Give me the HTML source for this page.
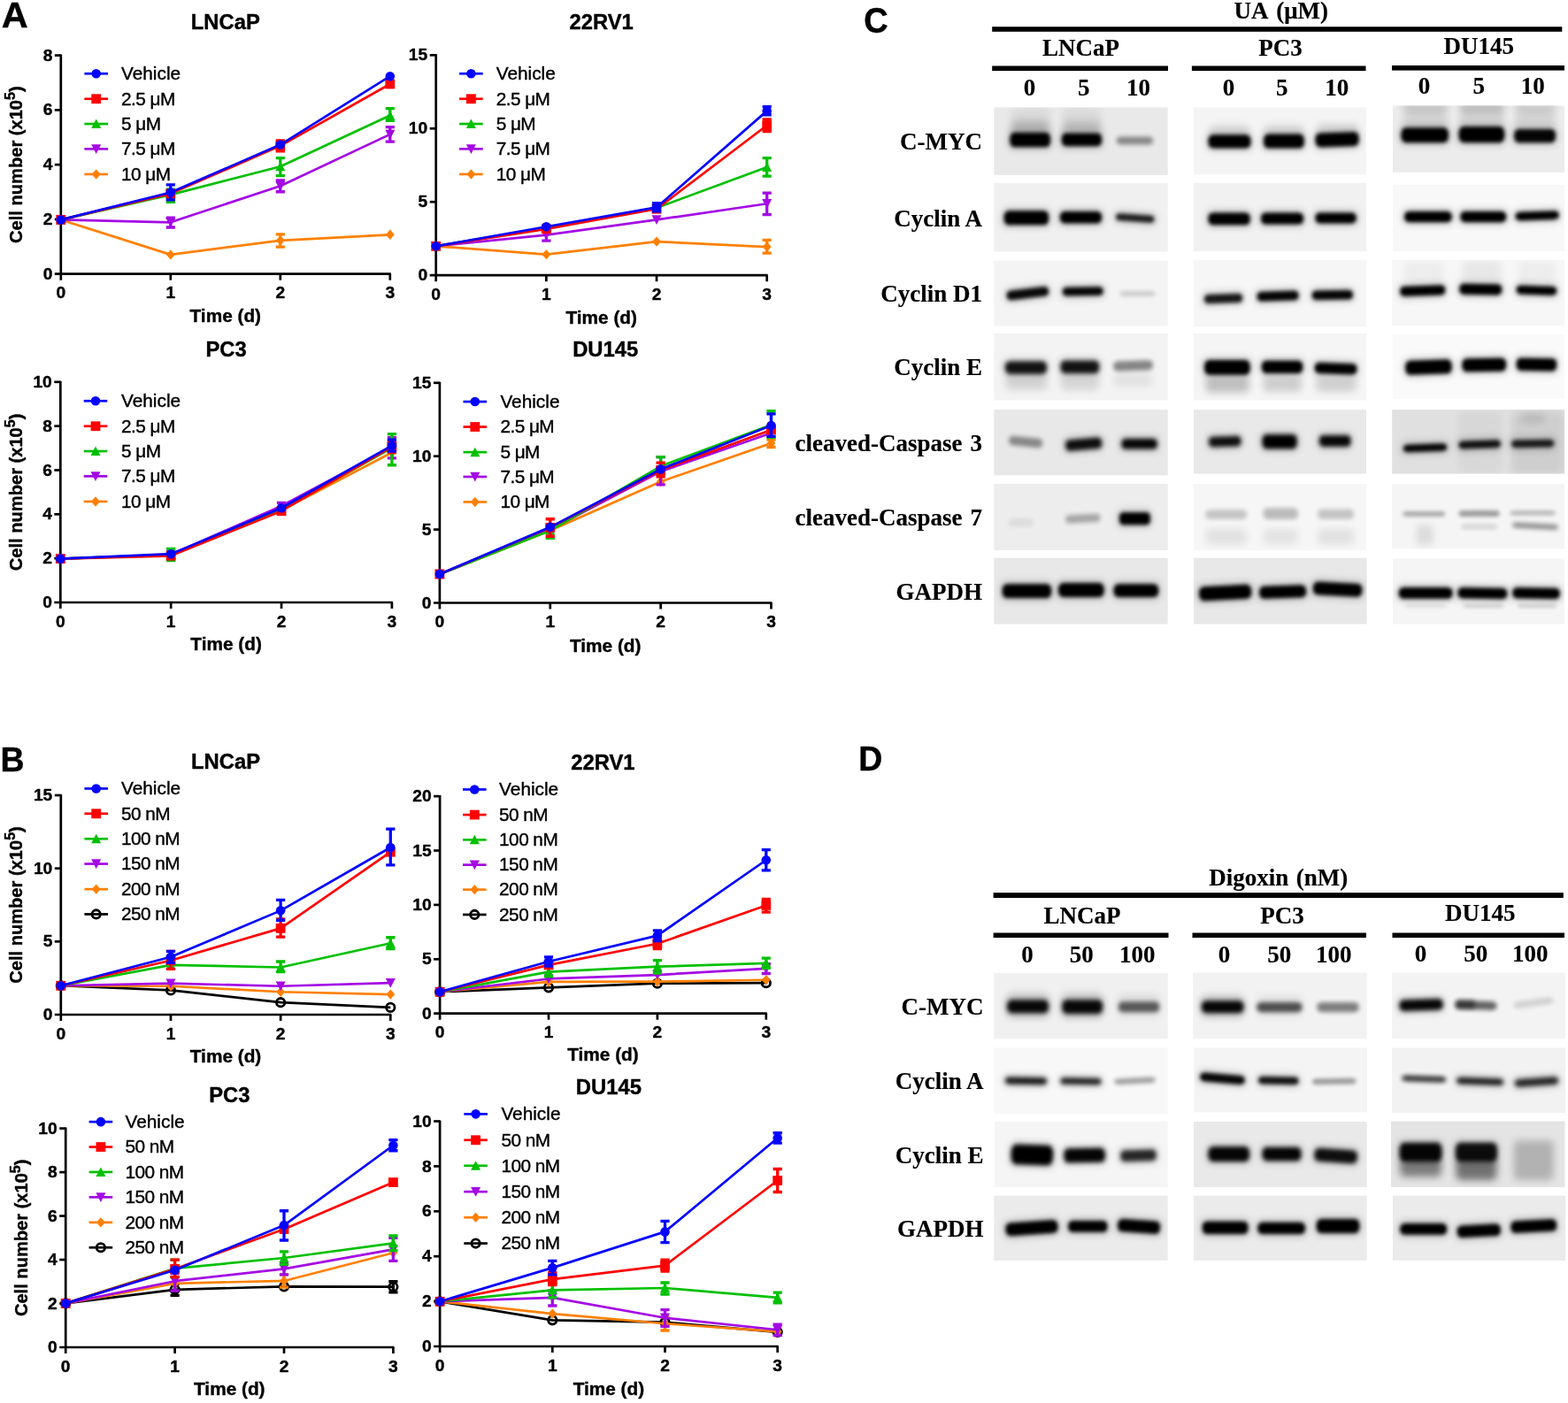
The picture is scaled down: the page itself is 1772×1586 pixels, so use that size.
<!DOCTYPE html>
<html lang="en">
<head>
<meta charset="utf-8">
<title>Figure</title>
<style>
html,body{margin:0;padding:0;background:#fff;}
body{width:1772px;height:1586px;overflow:hidden;}
svg{display:block;}
text{fill:#000;stroke:#000;stroke-width:0.4px;stroke-linejoin:round;font-family:"Liberation Sans",sans-serif;font-weight:700;}
.t{font-size:23.8px;text-anchor:middle;}
.x{font-size:20.8px;text-anchor:middle;}
.y{font-size:20.1px;text-anchor:middle;}
.k{font-size:19.2px;}
.e{text-anchor:end;}
.m{text-anchor:middle;}
.l{font-size:20.8px;font-weight:400;}
.n{letter-spacing:-0.55px;}
text.s{font-family:"Liberation Serif",serif;font-size:27px;stroke-width:0.15px;}
.w1{word-spacing:2.2px;}
.w2{word-spacing:3.4px;}
.w3{word-spacing:1.6px;}
</style>
</head>
<body>
<svg width="1772" height="1586" viewBox="0 0 1772 1586">
<rect width="1772" height="1586" fill="#fff"/>
<g><text x="254.8" y="33.2" class="t">LNCaP</text><text x="254.8" y="363.7" class="x">Time (d)</text><text transform="translate(25.1 186.15) rotate(-90)" class="y">Cell number (x10<tspan font-size="16" dy="-8.3">5</tspan><tspan dy="8.3">)</tspan></text><path d="M68.8 61.6V316.7M61.8 309.7H441.8" fill="none" stroke="#000" stroke-width="2.7" stroke-linejoin="round"/><text x="59.3" y="315.8" class="k e">0</text><path d="M61.8 247.92H68.8" stroke="#000" stroke-width="2.7" stroke-linejoin="round"/><text x="59.3" y="254.02" class="k e">2</text><path d="M61.8 186.15H68.8" stroke="#000" stroke-width="2.7" stroke-linejoin="round"/><text x="59.3" y="192.25" class="k e">4</text><path d="M61.8 124.38H68.8" stroke="#000" stroke-width="2.7" stroke-linejoin="round"/><text x="59.3" y="130.47" class="k e">6</text><path d="M61.8 62.6H68.8" stroke="#000" stroke-width="2.7" stroke-linejoin="round"/><text x="59.3" y="68.7" class="k e">8</text><text x="68.8" y="337.4" class="k m">0</text><path d="M192.8 309.7V316.7" stroke="#000" stroke-width="2.7" stroke-linejoin="round"/><text x="192.8" y="337.4" class="k m">1</text><path d="M316.8 309.7V316.7" stroke="#000" stroke-width="2.7" stroke-linejoin="round"/><text x="316.8" y="337.4" class="k m">2</text><path d="M440.8 309.7V316.7" stroke="#000" stroke-width="2.7" stroke-linejoin="round"/><text x="440.8" y="337.4" class="k m">3</text><path d="M68.8 248.43L192.8 287.89L316.8 271.79L440.8 265.3" fill="none" stroke="#ff8000" stroke-width="2.7" stroke-linejoin="round"/><path d="M316.8 264.79V279.06M311.7 264.79H321.9M311.7 279.06H321.9" fill="none" stroke="#ff8000" stroke-width="3.3"/><path d="M68.8 242.73L73.7 248.43L68.8 254.13L63.9 248.43Z" fill="#ff8000"/><path d="M192.8 282.19L197.7 287.89L192.8 293.59L187.9 287.89Z" fill="#ff8000"/><path d="M316.8 266.09L321.7 271.79L316.8 277.49L311.9 271.79Z" fill="#ff8000"/><path d="M440.8 259.6L445.7 265.3L440.8 271L435.9 265.3Z" fill="#ff8000"/><path d="M68.8 248.43L192.8 251.29L316.8 210.27L440.8 151.86" fill="none" stroke="#a408e4" stroke-width="2.7" stroke-linejoin="round"/><path d="M192.8 246.09V257M187.7 246.09H197.9M187.7 257H197.9" fill="none" stroke="#a408e4" stroke-width="3.3"/><path d="M316.8 203.78V216.76M311.7 203.78H321.9M311.7 216.76H321.9" fill="none" stroke="#a408e4" stroke-width="3.3"/><path d="M440.8 143.56V160.17M435.7 143.56H445.9M435.7 160.17H445.9" fill="none" stroke="#a408e4" stroke-width="3.3"/><path d="M68.8 254.03L74.3 243.23L63.3 243.23Z" fill="#a408e4"/><path d="M192.8 256.89L198.3 246.09L187.3 246.09Z" fill="#a408e4"/><path d="M316.8 215.87L322.3 205.07L311.3 205.07Z" fill="#a408e4"/><path d="M440.8 157.46L446.3 146.66L435.3 146.66Z" fill="#a408e4"/><path d="M68.8 248.43L192.8 220.14L316.8 188.21L440.8 130.58" fill="none" stroke="#00c000" stroke-width="2.7" stroke-linejoin="round"/><path d="M192.8 214.16V228.44M187.7 214.16H197.9M187.7 228.44H197.9" fill="none" stroke="#00c000" stroke-width="3.3"/><path d="M316.8 178.6V198.59M311.7 178.6H321.9M311.7 198.59H321.9" fill="none" stroke="#00c000" stroke-width="3.3"/><path d="M440.8 122.53V136.29M435.7 122.53H445.9M435.7 136.29H445.9" fill="none" stroke="#00c000" stroke-width="3.3"/><path d="M68.8 242.93L74.3 253.43L63.3 253.43Z" fill="#00c000"/><path d="M192.8 214.64L198.3 225.14L187.3 225.14Z" fill="#00c000"/><path d="M316.8 182.71L322.3 193.21L311.3 193.21Z" fill="#00c000"/><path d="M440.8 125.08L446.3 135.58L435.3 135.58Z" fill="#00c000"/><path d="M68.8 248.43L192.8 218.84L316.8 164.84L440.8 95.01" fill="none" stroke="#ff0000" stroke-width="2.7" stroke-linejoin="round"/><path d="M316.8 158.87V170.81M311.7 158.87H321.9M311.7 170.81H321.9" fill="none" stroke="#ff0000" stroke-width="3.3"/><rect x="63.4" y="243.03" width="10.8" height="10.8" fill="#ff0000"/><rect x="187.4" y="213.44" width="10.8" height="10.8" fill="#ff0000"/><rect x="311.4" y="159.44" width="10.8" height="10.8" fill="#ff0000"/><rect x="435.4" y="89.61" width="10.8" height="10.8" fill="#ff0000"/><path d="M68.8 248.43L192.8 217.54L316.8 163.54L440.8 86.19" fill="none" stroke="#0404ff" stroke-width="2.7" stroke-linejoin="round"/><path d="M192.8 208.97V225.85M187.7 208.97H197.9M187.7 225.85H197.9" fill="none" stroke="#0404ff" stroke-width="3.3"/><circle cx="68.8" cy="248.43" r="5.3" fill="#0404ff"/><circle cx="192.8" cy="217.54" r="5.3" fill="#0404ff"/><circle cx="316.8" cy="163.54" r="5.3" fill="#0404ff"/><circle cx="440.8" cy="86.19" r="5.3" fill="#0404ff"/><path d="M95.4 83.25H122" stroke="#0404ff" stroke-width="2.7"/><circle cx="108.7" cy="83.25" r="5.3" fill="#0404ff"/><text x="137" y="90" class="l">Vehicle</text><path d="M95.4 111.75H122" stroke="#ff0000" stroke-width="2.7"/><rect x="103.3" y="106.35" width="10.8" height="10.8" fill="#ff0000"/><text x="137" y="118.5" class="l n">2.5 μM</text><path d="M95.4 140.05H122" stroke="#00c000" stroke-width="2.7"/><path d="M108.7 134.55L114.2 145.05L103.2 145.05Z" fill="#00c000"/><text x="137" y="146.8" class="l n">5 μM</text><path d="M95.4 168.35H122" stroke="#a408e4" stroke-width="2.7"/><path d="M108.7 173.95L114.2 163.15L103.2 163.15Z" fill="#a408e4"/><text x="137" y="175.1" class="l n">7.5 μM</text><path d="M95.4 196.95H122" stroke="#ff8000" stroke-width="2.7"/><path d="M108.7 191.25L113.6 196.95L108.7 202.65L103.8 196.95Z" fill="#ff8000"/><text x="137" y="203.7" class="l n">10 μM</text></g>
<g><text x="679.7" y="32.7" class="t">22RV1</text><text x="679.7" y="366" class="x">Time (d)</text><path d="M492.7 61.3V318.2M485.7 311.2H867.7" fill="none" stroke="#000" stroke-width="2.7" stroke-linejoin="round"/><text x="483.2" y="317.3" class="k e">0</text><path d="M485.7 228.23H492.7" stroke="#000" stroke-width="2.7" stroke-linejoin="round"/><text x="483.2" y="234.33" class="k e">5</text><path d="M485.7 145.27H492.7" stroke="#000" stroke-width="2.7" stroke-linejoin="round"/><text x="483.2" y="151.37" class="k e">10</text><path d="M485.7 62.3H492.7" stroke="#000" stroke-width="2.7" stroke-linejoin="round"/><text x="483.2" y="68.4" class="k e">15</text><text x="492.7" y="338.9" class="k m">0</text><path d="M617.37 311.2V318.2" stroke="#000" stroke-width="2.7" stroke-linejoin="round"/><text x="617.37" y="338.9" class="k m">1</text><path d="M742.03 311.2V318.2" stroke="#000" stroke-width="2.7" stroke-linejoin="round"/><text x="742.03" y="338.9" class="k m">2</text><path d="M866.7 311.2V318.2" stroke="#000" stroke-width="2.7" stroke-linejoin="round"/><text x="866.7" y="338.9" class="k m">3</text><path d="M492.7 278.28L617.37 287.63L742.03 273.09L866.7 279.06" fill="none" stroke="#ff8000" stroke-width="2.7" stroke-linejoin="round"/><path d="M866.7 271.28V286.07M861.6 271.28H871.8M861.6 286.07H871.8" fill="none" stroke="#ff8000" stroke-width="3.3"/><path d="M492.7 272.58L497.6 278.28L492.7 283.98L487.8 278.28Z" fill="#ff8000"/><path d="M617.37 281.93L622.27 287.63L617.37 293.33L612.47 287.63Z" fill="#ff8000"/><path d="M742.03 267.39L746.93 273.09L742.03 278.79L737.13 273.09Z" fill="#ff8000"/><path d="M866.7 273.36L871.6 279.06L866.7 284.76L861.8 279.06Z" fill="#ff8000"/><path d="M492.7 278.28L617.37 265.56L742.03 248.43L866.7 230.26" fill="none" stroke="#a408e4" stroke-width="2.7" stroke-linejoin="round"/><path d="M617.37 259.59V272.05M612.27 259.59H622.47M612.27 272.05H622.47" fill="none" stroke="#a408e4" stroke-width="3.3"/><path d="M866.7 218.06V242.72M861.6 218.06H871.8M861.6 242.72H871.8" fill="none" stroke="#a408e4" stroke-width="3.3"/><path d="M492.7 283.88L498.2 273.08L487.2 273.08Z" fill="#a408e4"/><path d="M617.37 271.16L622.87 260.36L611.87 260.36Z" fill="#a408e4"/><path d="M742.03 254.03L747.53 243.23L736.53 243.23Z" fill="#a408e4"/><path d="M866.7 235.86L872.2 225.06L861.2 225.06Z" fill="#a408e4"/><path d="M492.7 278.28L617.37 257.52L742.03 234.93L866.7 188.98" fill="none" stroke="#00c000" stroke-width="2.7" stroke-linejoin="round"/><path d="M866.7 178.6V199.11M861.6 178.6H871.8M861.6 199.11H871.8" fill="none" stroke="#00c000" stroke-width="3.3"/><path d="M492.7 272.78L498.2 283.28L487.2 283.28Z" fill="#00c000"/><path d="M617.37 252.02L622.87 262.52L611.87 262.52Z" fill="#00c000"/><path d="M742.03 229.43L747.53 239.93L736.53 239.93Z" fill="#00c000"/><path d="M866.7 183.48L872.2 193.98L861.2 193.98Z" fill="#00c000"/><path d="M492.7 278.28L617.37 258.81L742.03 236.23L866.7 141.74" fill="none" stroke="#ff0000" stroke-width="2.7" stroke-linejoin="round"/><path d="M866.7 134.99V148.49M861.6 134.99H871.8M861.6 148.49H871.8" fill="none" stroke="#ff0000" stroke-width="3.3"/><rect x="487.3" y="272.88" width="10.8" height="10.8" fill="#ff0000"/><rect x="611.97" y="253.41" width="10.8" height="10.8" fill="#ff0000"/><rect x="736.63" y="230.83" width="10.8" height="10.8" fill="#ff0000"/><rect x="861.3" y="136.34" width="10.8" height="10.8" fill="#ff0000"/><path d="M492.7 278.28L617.37 256.22L742.03 234.41L866.7 125.38" fill="none" stroke="#0404ff" stroke-width="2.7" stroke-linejoin="round"/><path d="M742.03 229.74V238.83M736.93 229.74H747.13M736.93 238.83H747.13" fill="none" stroke="#0404ff" stroke-width="3.3"/><path d="M866.7 120.71V129.8M861.6 120.71H871.8M861.6 129.8H871.8" fill="none" stroke="#0404ff" stroke-width="3.3"/><circle cx="492.7" cy="278.28" r="5.3" fill="#0404ff"/><circle cx="617.37" cy="256.22" r="5.3" fill="#0404ff"/><circle cx="742.03" cy="234.41" r="5.3" fill="#0404ff"/><circle cx="866.7" cy="125.38" r="5.3" fill="#0404ff"/><path d="M519.1 83.25H545.7" stroke="#0404ff" stroke-width="2.7"/><circle cx="532.4" cy="83.25" r="5.3" fill="#0404ff"/><text x="560.7" y="90" class="l">Vehicle</text><path d="M519.1 111.75H545.7" stroke="#ff0000" stroke-width="2.7"/><rect x="527" y="106.35" width="10.8" height="10.8" fill="#ff0000"/><text x="560.7" y="118.5" class="l n">2.5 μM</text><path d="M519.1 140.05H545.7" stroke="#00c000" stroke-width="2.7"/><path d="M532.4 134.55L537.9 145.05L526.9 145.05Z" fill="#00c000"/><text x="560.7" y="146.8" class="l n">5 μM</text><path d="M519.1 168.35H545.7" stroke="#a408e4" stroke-width="2.7"/><path d="M532.4 173.95L537.9 163.15L526.9 163.15Z" fill="#a408e4"/><text x="560.7" y="175.1" class="l n">7.5 μM</text><path d="M519.1 196.95H545.7" stroke="#ff8000" stroke-width="2.7"/><path d="M532.4 191.25L537.3 196.95L532.4 202.65L527.5 196.95Z" fill="#ff8000"/><text x="560.7" y="203.7" class="l n">10 μM</text></g>
<g><text x="255.6" y="402.71" class="t">PC3</text><text x="255.6" y="735" class="x">Time (d)</text><text transform="translate(25.1 556.4) rotate(-90)" class="y">Cell number (x10<tspan font-size="16" dy="-8.3">5</tspan><tspan dy="8.3">)</tspan></text><path d="M68.3 430.8V688M61.3 681H443.9" fill="none" stroke="#000" stroke-width="2.7" stroke-linejoin="round"/><text x="58.8" y="687.1" class="k e">0</text><path d="M61.3 631.16H68.3" stroke="#000" stroke-width="2.7" stroke-linejoin="round"/><text x="58.8" y="637.26" class="k e">2</text><path d="M61.3 581.32H68.3" stroke="#000" stroke-width="2.7" stroke-linejoin="round"/><text x="58.8" y="587.42" class="k e">4</text><path d="M61.3 531.48H68.3" stroke="#000" stroke-width="2.7" stroke-linejoin="round"/><text x="58.8" y="537.58" class="k e">6</text><path d="M61.3 481.64H68.3" stroke="#000" stroke-width="2.7" stroke-linejoin="round"/><text x="58.8" y="487.74" class="k e">8</text><path d="M61.3 431.8H68.3" stroke="#000" stroke-width="2.7" stroke-linejoin="round"/><text x="58.8" y="437.9" class="k e">10</text><text x="68.3" y="708.7" class="k m">0</text><path d="M193.17 681V688" stroke="#000" stroke-width="2.7" stroke-linejoin="round"/><text x="193.17" y="708.7" class="k m">1</text><path d="M318.03 681V688" stroke="#000" stroke-width="2.7" stroke-linejoin="round"/><text x="318.03" y="708.7" class="k m">2</text><path d="M442.9 681V688" stroke="#000" stroke-width="2.7" stroke-linejoin="round"/><text x="442.9" y="708.7" class="k m">3</text><path d="M68.3 631.67L193.17 627.52L318.03 576.9L442.9 511.48" fill="none" stroke="#ff8000" stroke-width="2.7" stroke-linejoin="round"/><path d="M68.3 625.97L73.2 631.67L68.3 637.37L63.4 631.67Z" fill="#ff8000"/><path d="M193.17 621.82L198.07 627.52L193.17 633.22L188.27 627.52Z" fill="#ff8000"/><path d="M318.03 571.2L322.93 576.9L318.03 582.6L313.13 576.9Z" fill="#ff8000"/><path d="M442.9 505.78L447.8 511.48L442.9 517.18L438 511.48Z" fill="#ff8000"/><path d="M68.3 631.67L193.17 627L318.03 571.96L442.9 505.51" fill="none" stroke="#a408e4" stroke-width="2.7" stroke-linejoin="round"/><path d="M318.03 568.59V576.38M312.93 568.59H323.13M312.93 576.38H323.13" fill="none" stroke="#a408e4" stroke-width="3.3"/><path d="M442.9 494.6V517.97M437.8 494.6H448M437.8 517.97H448" fill="none" stroke="#a408e4" stroke-width="3.3"/><path d="M68.3 637.27L73.8 626.47L62.8 626.47Z" fill="#a408e4"/><path d="M193.17 632.6L198.67 621.8L187.67 621.8Z" fill="#a408e4"/><path d="M318.03 577.56L323.53 566.76L312.53 566.76Z" fill="#a408e4"/><path d="M442.9 511.11L448.4 500.31L437.4 500.31Z" fill="#a408e4"/><path d="M68.3 631.67L193.17 627L318.03 576.38L442.9 506.29" fill="none" stroke="#00c000" stroke-width="2.7" stroke-linejoin="round"/><path d="M193.17 620.51V633.49M188.07 620.51H198.27M188.07 633.49H198.27" fill="none" stroke="#00c000" stroke-width="3.3"/><path d="M442.9 490.71V525.76M437.8 490.71H448M437.8 525.76H448" fill="none" stroke="#00c000" stroke-width="3.3"/><path d="M68.3 626.17L73.8 636.67L62.8 636.67Z" fill="#00c000"/><path d="M193.17 621.5L198.67 632L187.67 632Z" fill="#00c000"/><path d="M318.03 570.88L323.53 581.38L312.53 581.38Z" fill="#00c000"/><path d="M442.9 500.79L448.4 511.29L437.4 511.29Z" fill="#00c000"/><path d="M68.3 631.67L193.17 628.3L318.03 577.67L442.9 504.99" fill="none" stroke="#ff0000" stroke-width="2.7" stroke-linejoin="round"/><path d="M442.9 498.5V511.48M437.8 498.5H448M437.8 511.48H448" fill="none" stroke="#ff0000" stroke-width="3.3"/><rect x="62.9" y="626.27" width="10.8" height="10.8" fill="#ff0000"/><rect x="187.77" y="622.9" width="10.8" height="10.8" fill="#ff0000"/><rect x="312.63" y="572.27" width="10.8" height="10.8" fill="#ff0000"/><rect x="437.5" y="499.59" width="10.8" height="10.8" fill="#ff0000"/><path d="M68.3 631.67L193.17 626.22L318.03 574.3L442.9 503.69" fill="none" stroke="#0404ff" stroke-width="2.7" stroke-linejoin="round"/><path d="M442.9 497.2V510.18M437.8 497.2H448M437.8 510.18H448" fill="none" stroke="#0404ff" stroke-width="3.3"/><circle cx="68.3" cy="631.67" r="5.3" fill="#0404ff"/><circle cx="193.17" cy="626.22" r="5.3" fill="#0404ff"/><circle cx="318.03" cy="574.3" r="5.3" fill="#0404ff"/><circle cx="442.9" cy="503.69" r="5.3" fill="#0404ff"/><path d="M94.7 453.25H121.3" stroke="#0404ff" stroke-width="2.7"/><circle cx="108" cy="453.25" r="5.3" fill="#0404ff"/><text x="137" y="460" class="l">Vehicle</text><path d="M94.7 481.75H121.3" stroke="#ff0000" stroke-width="2.7"/><rect x="102.6" y="476.35" width="10.8" height="10.8" fill="#ff0000"/><text x="137" y="488.5" class="l n">2.5 μM</text><path d="M94.7 510.05H121.3" stroke="#00c000" stroke-width="2.7"/><path d="M108 504.55L113.5 515.05L102.5 515.05Z" fill="#00c000"/><text x="137" y="516.8" class="l n">5 μM</text><path d="M94.7 538.35H121.3" stroke="#a408e4" stroke-width="2.7"/><path d="M108 543.95L113.5 533.15L102.5 533.15Z" fill="#a408e4"/><text x="137" y="545.1" class="l n">7.5 μM</text><path d="M94.7 566.95H121.3" stroke="#ff8000" stroke-width="2.7"/><path d="M108 561.25L112.9 566.95L108 572.65L103.1 566.95Z" fill="#ff8000"/><text x="137" y="573.7" class="l n">10 μM</text></g>
<g><text x="684.2" y="403.23" class="t">DU145</text><text x="684.2" y="736.6" class="x">Time (d)</text><path d="M496.9 431.8V688.5M489.9 681.5H872.5" fill="none" stroke="#000" stroke-width="2.7" stroke-linejoin="round"/><text x="487.4" y="687.6" class="k e">0</text><path d="M489.9 598.6H496.9" stroke="#000" stroke-width="2.7" stroke-linejoin="round"/><text x="487.4" y="604.7" class="k e">5</text><path d="M489.9 515.7H496.9" stroke="#000" stroke-width="2.7" stroke-linejoin="round"/><text x="487.4" y="521.8" class="k e">10</text><path d="M489.9 432.8H496.9" stroke="#000" stroke-width="2.7" stroke-linejoin="round"/><text x="487.4" y="438.9" class="k e">15</text><text x="496.9" y="709.2" class="k m">0</text><path d="M621.77 681.5V688.5" stroke="#000" stroke-width="2.7" stroke-linejoin="round"/><text x="621.77" y="709.2" class="k m">1</text><path d="M746.63 681.5V688.5" stroke="#000" stroke-width="2.7" stroke-linejoin="round"/><text x="746.63" y="709.2" class="k m">2</text><path d="M871.5 681.5V688.5" stroke="#000" stroke-width="2.7" stroke-linejoin="round"/><text x="871.5" y="709.2" class="k m">3</text><path d="M496.9 649.06L621.77 599.74L746.63 544.45L871.5 501.09" fill="none" stroke="#ff8000" stroke-width="2.7" stroke-linejoin="round"/><path d="M871.5 497.2V505.51M866.4 497.2H876.6M866.4 505.51H876.6" fill="none" stroke="#ff8000" stroke-width="3.3"/><path d="M496.9 643.36L501.8 649.06L496.9 654.76L492 649.06Z" fill="#ff8000"/><path d="M621.77 594.04L626.67 599.74L621.77 605.44L616.87 599.74Z" fill="#ff8000"/><path d="M746.63 538.75L751.53 544.45L746.63 550.15L741.73 544.45Z" fill="#ff8000"/><path d="M871.5 495.39L876.4 501.09L871.5 506.79L866.6 501.09Z" fill="#ff8000"/><path d="M496.9 649.06L621.77 598.44L746.63 533.02L871.5 489.41" fill="none" stroke="#a408e4" stroke-width="2.7" stroke-linejoin="round"/><path d="M746.63 516.67V547.82M741.53 516.67H751.73M741.53 547.82H751.73" fill="none" stroke="#a408e4" stroke-width="3.3"/><path d="M496.9 654.66L502.4 643.86L491.4 643.86Z" fill="#a408e4"/><path d="M621.77 604.04L627.27 593.24L616.27 593.24Z" fill="#a408e4"/><path d="M746.63 538.62L752.13 527.82L741.13 527.82Z" fill="#a408e4"/><path d="M871.5 495.01L877 484.21L866 484.21Z" fill="#a408e4"/><path d="M496.9 649.06L621.77 599.74L746.63 527.05L871.5 480.33" fill="none" stroke="#00c000" stroke-width="2.7" stroke-linejoin="round"/><path d="M621.77 593.25V608.31M616.67 593.25H626.87M616.67 608.31H626.87" fill="none" stroke="#00c000" stroke-width="3.3"/><path d="M746.63 516.67V536.14M741.53 516.67H751.73M741.53 536.14H751.73" fill="none" stroke="#00c000" stroke-width="3.3"/><path d="M871.5 464.75V494.6M866.4 464.75H876.6M866.4 494.6H876.6" fill="none" stroke="#00c000" stroke-width="3.3"/><path d="M496.9 643.56L502.4 654.06L491.4 654.06Z" fill="#00c000"/><path d="M621.77 594.24L627.27 604.74L616.27 604.74Z" fill="#00c000"/><path d="M746.63 521.55L752.13 532.05L741.13 532.05Z" fill="#00c000"/><path d="M871.5 474.83L877 485.33L866 485.33Z" fill="#00c000"/><path d="M496.9 649.06L621.77 596.37L746.63 531.47L871.5 486.04" fill="none" stroke="#ff0000" stroke-width="2.7" stroke-linejoin="round"/><path d="M621.77 586.76V606.23M616.67 586.76H626.87M616.67 606.23H626.87" fill="none" stroke="#ff0000" stroke-width="3.3"/><path d="M746.63 523.16V538.74M741.53 523.16H751.73M741.53 538.74H751.73" fill="none" stroke="#ff0000" stroke-width="3.3"/><rect x="491.5" y="643.66" width="10.8" height="10.8" fill="#ff0000"/><rect x="616.37" y="590.97" width="10.8" height="10.8" fill="#ff0000"/><rect x="741.23" y="526.07" width="10.8" height="10.8" fill="#ff0000"/><rect x="866.1" y="480.64" width="10.8" height="10.8" fill="#ff0000"/><path d="M496.9 649.06L621.77 595.85L746.63 530.43L871.5 481.11" fill="none" stroke="#0404ff" stroke-width="2.7" stroke-linejoin="round"/><path d="M871.5 467.87V493.31M866.4 467.87H876.6M866.4 493.31H876.6" fill="none" stroke="#0404ff" stroke-width="3.3"/><circle cx="496.9" cy="649.06" r="5.3" fill="#0404ff"/><circle cx="621.77" cy="595.85" r="5.3" fill="#0404ff"/><circle cx="746.63" cy="530.43" r="5.3" fill="#0404ff"/><circle cx="871.5" cy="481.11" r="5.3" fill="#0404ff"/><path d="M523.5 454.05H550.1" stroke="#0404ff" stroke-width="2.7"/><circle cx="536.8" cy="454.05" r="5.3" fill="#0404ff"/><text x="565.4" y="460.8" class="l">Vehicle</text><path d="M523.5 482.55H550.1" stroke="#ff0000" stroke-width="2.7"/><rect x="531.4" y="477.15" width="10.8" height="10.8" fill="#ff0000"/><text x="565.4" y="489.3" class="l n">2.5 μM</text><path d="M523.5 511.15H550.1" stroke="#00c000" stroke-width="2.7"/><path d="M536.8 505.65L542.3 516.15L531.3 516.15Z" fill="#00c000"/><text x="565.4" y="517.9" class="l n">5 μM</text><path d="M523.5 538.95H550.1" stroke="#a408e4" stroke-width="2.7"/><path d="M536.8 544.55L542.3 533.75L531.3 533.75Z" fill="#a408e4"/><text x="565.4" y="545.7" class="l n">7.5 μM</text><path d="M523.5 567.45H550.1" stroke="#ff8000" stroke-width="2.7"/><path d="M536.8 561.75L541.7 567.45L536.8 573.15L531.9 567.45Z" fill="#ff8000"/><text x="565.4" y="574.2" class="l n">10 μM</text></g>
<g><text x="255.05" y="869.46" class="t">LNCaP</text><text x="255.05" y="1201" class="x">Time (d)</text><text transform="translate(25.1 1023) rotate(-90)" class="y">Cell number (x10<tspan font-size="16" dy="-8.3">5</tspan><tspan dy="8.3">)</tspan></text><path d="M68.8 898V1154M61.8 1147H442.3" fill="none" stroke="#000" stroke-width="2.7" stroke-linejoin="round"/><text x="59.3" y="1153.1" class="k e">0</text><path d="M61.8 1064.33H68.8" stroke="#000" stroke-width="2.7" stroke-linejoin="round"/><text x="59.3" y="1070.43" class="k e">5</text><path d="M61.8 981.67H68.8" stroke="#000" stroke-width="2.7" stroke-linejoin="round"/><text x="59.3" y="987.77" class="k e">10</text><path d="M61.8 899H68.8" stroke="#000" stroke-width="2.7" stroke-linejoin="round"/><text x="59.3" y="905.1" class="k e">15</text><text x="68.8" y="1174.7" class="k m">0</text><path d="M192.97 1147V1154" stroke="#000" stroke-width="2.7" stroke-linejoin="round"/><text x="192.97" y="1174.7" class="k m">1</text><path d="M317.13 1147V1154" stroke="#000" stroke-width="2.7" stroke-linejoin="round"/><text x="317.13" y="1174.7" class="k m">2</text><path d="M441.3 1147V1154" stroke="#000" stroke-width="2.7" stroke-linejoin="round"/><text x="441.3" y="1174.7" class="k m">3</text><path d="M68.8 1114.26L192.97 1119.45L317.13 1133.21L441.3 1138.92" fill="none" stroke="#000000" stroke-width="2.7" stroke-linejoin="round"/><circle cx="68.8" cy="1114.26" r="4.7" fill="none" stroke="#000000" stroke-width="2.8"/><circle cx="192.97" cy="1119.45" r="4.7" fill="none" stroke="#000000" stroke-width="2.8"/><circle cx="317.13" cy="1133.21" r="4.7" fill="none" stroke="#000000" stroke-width="2.8"/><circle cx="441.3" cy="1138.92" r="4.7" fill="none" stroke="#000000" stroke-width="2.8"/><path d="M68.8 1114.26L192.97 1114.77L317.13 1121.26L441.3 1124.12" fill="none" stroke="#ff8000" stroke-width="2.7" stroke-linejoin="round"/><path d="M68.8 1108.56L73.7 1114.26L68.8 1119.96L63.9 1114.26Z" fill="#ff8000"/><path d="M192.97 1109.07L197.87 1114.77L192.97 1120.47L188.07 1114.77Z" fill="#ff8000"/><path d="M317.13 1115.56L322.03 1121.26L317.13 1126.96L312.23 1121.26Z" fill="#ff8000"/><path d="M441.3 1118.42L446.2 1124.12L441.3 1129.82L436.4 1124.12Z" fill="#ff8000"/><path d="M68.8 1114.26L192.97 1111.66L317.13 1114.77L441.3 1111.14" fill="none" stroke="#a408e4" stroke-width="2.7" stroke-linejoin="round"/><path d="M68.8 1119.86L74.3 1109.06L63.3 1109.06Z" fill="#a408e4"/><path d="M192.97 1117.26L198.47 1106.46L187.47 1106.46Z" fill="#a408e4"/><path d="M317.13 1120.37L322.63 1109.57L311.63 1109.57Z" fill="#a408e4"/><path d="M441.3 1116.74L446.8 1105.94L435.8 1105.94Z" fill="#a408e4"/><path d="M68.8 1114.26L192.97 1090.89L317.13 1093.49L441.3 1066.23" fill="none" stroke="#00c000" stroke-width="2.7" stroke-linejoin="round"/><path d="M317.13 1087V1098.68M312.03 1087H322.23M312.03 1098.68H322.23" fill="none" stroke="#00c000" stroke-width="3.3"/><path d="M441.3 1059.74V1072.72M436.2 1059.74H446.4M436.2 1072.72H446.4" fill="none" stroke="#00c000" stroke-width="3.3"/><path d="M68.8 1108.76L74.3 1119.26L63.3 1119.26Z" fill="#00c000"/><path d="M192.97 1085.39L198.47 1095.89L187.47 1095.89Z" fill="#00c000"/><path d="M317.13 1087.99L322.63 1098.49L311.63 1098.49Z" fill="#00c000"/><path d="M441.3 1060.73L446.8 1071.23L435.8 1071.23Z" fill="#00c000"/><path d="M68.8 1114.26L192.97 1085.7L317.13 1049.36L441.3 963.17" fill="none" stroke="#ff0000" stroke-width="2.7" stroke-linejoin="round"/><path d="M192.97 1075.32V1095.3M187.87 1075.32H198.07M187.87 1095.3H198.07" fill="none" stroke="#ff0000" stroke-width="3.3"/><path d="M317.13 1038.97V1059.22M312.03 1038.97H322.23M312.03 1059.22H322.23" fill="none" stroke="#ff0000" stroke-width="3.3"/><rect x="63.4" y="1108.86" width="10.8" height="10.8" fill="#ff0000"/><rect x="187.57" y="1080.3" width="10.8" height="10.8" fill="#ff0000"/><rect x="311.73" y="1043.96" width="10.8" height="10.8" fill="#ff0000"/><rect x="435.9" y="957.77" width="10.8" height="10.8" fill="#ff0000"/><path d="M68.8 1114.26L192.97 1081.81L317.13 1029.37L441.3 957.98" fill="none" stroke="#0404ff" stroke-width="2.7" stroke-linejoin="round"/><path d="M192.97 1075.32V1088.3M187.87 1075.32H198.07M187.87 1088.3H198.07" fill="none" stroke="#0404ff" stroke-width="3.3"/><path d="M317.13 1017.43V1040.27M312.03 1017.43H322.23M312.03 1040.27H322.23" fill="none" stroke="#0404ff" stroke-width="3.3"/><path d="M441.3 937.21V977.97M436.2 937.21H446.4M436.2 977.97H446.4" fill="none" stroke="#0404ff" stroke-width="3.3"/><circle cx="68.8" cy="1114.26" r="5.3" fill="#0404ff"/><circle cx="192.97" cy="1081.81" r="5.3" fill="#0404ff"/><circle cx="317.13" cy="1029.37" r="5.3" fill="#0404ff"/><circle cx="441.3" cy="957.98" r="5.3" fill="#0404ff"/><path d="M95.4 891.45H122" stroke="#0404ff" stroke-width="2.7"/><circle cx="108.7" cy="891.45" r="5.3" fill="#0404ff"/><text x="137" y="898.2" class="l">Vehicle</text><path d="M95.4 919.75H122" stroke="#ff0000" stroke-width="2.7"/><rect x="103.3" y="914.35" width="10.8" height="10.8" fill="#ff0000"/><text x="137" y="926.5" class="l n">50 nM</text><path d="M95.4 948.25H122" stroke="#00c000" stroke-width="2.7"/><path d="M108.7 942.75L114.2 953.25L103.2 953.25Z" fill="#00c000"/><text x="137" y="955" class="l n">100 nM</text><path d="M95.4 976.55H122" stroke="#a408e4" stroke-width="2.7"/><path d="M108.7 982.15L114.2 971.35L103.2 971.35Z" fill="#a408e4"/><text x="137" y="983.3" class="l n">150 nM</text><path d="M95.4 1005.15H122" stroke="#ff8000" stroke-width="2.7"/><path d="M108.7 999.45L113.6 1005.15L108.7 1010.85L103.8 1005.15Z" fill="#ff8000"/><text x="137" y="1011.9" class="l n">200 nM</text><path d="M95.4 1033.45H122" stroke="#000000" stroke-width="2.7"/><circle cx="108.7" cy="1033.45" r="4.7" fill="none" stroke="#000000" stroke-width="2.8"/><text x="137" y="1040.2" class="l n">250 nM</text></g>
<g><text x="681.45" y="870.24" class="t">22RV1</text><text x="681.45" y="1198.9" class="x">Time (d)</text><path d="M497.1 899.1V1152.7M490.1 1145.7H866.8" fill="none" stroke="#000" stroke-width="2.7" stroke-linejoin="round"/><text x="487.6" y="1151.8" class="k e">0</text><path d="M490.1 1084.3H497.1" stroke="#000" stroke-width="2.7" stroke-linejoin="round"/><text x="487.6" y="1090.4" class="k e">5</text><path d="M490.1 1022.9H497.1" stroke="#000" stroke-width="2.7" stroke-linejoin="round"/><text x="487.6" y="1029" class="k e">10</text><path d="M490.1 961.5H497.1" stroke="#000" stroke-width="2.7" stroke-linejoin="round"/><text x="487.6" y="967.6" class="k e">15</text><path d="M490.1 900.1H497.1" stroke="#000" stroke-width="2.7" stroke-linejoin="round"/><text x="487.6" y="906.2" class="k e">20</text><text x="497.1" y="1173.4" class="k m">0</text><path d="M620 1145.7V1152.7" stroke="#000" stroke-width="2.7" stroke-linejoin="round"/><text x="620" y="1173.4" class="k m">1</text><path d="M742.9 1145.7V1152.7" stroke="#000" stroke-width="2.7" stroke-linejoin="round"/><text x="742.9" y="1173.4" class="k m">2</text><path d="M865.8 1145.7V1152.7" stroke="#000" stroke-width="2.7" stroke-linejoin="round"/><text x="865.8" y="1173.4" class="k m">3</text><path d="M497.1 1121.26L620 1116.33L742.9 1111.66L865.8 1111.14" fill="none" stroke="#000000" stroke-width="2.7" stroke-linejoin="round"/><circle cx="497.1" cy="1121.26" r="4.7" fill="none" stroke="#000000" stroke-width="2.8"/><circle cx="620" cy="1116.33" r="4.7" fill="none" stroke="#000000" stroke-width="2.8"/><circle cx="742.9" cy="1111.66" r="4.7" fill="none" stroke="#000000" stroke-width="2.8"/><circle cx="865.8" cy="1111.14" r="4.7" fill="none" stroke="#000000" stroke-width="2.8"/><path d="M497.1 1121.26L620 1109.84L742.9 1109.58L865.8 1107.77" fill="none" stroke="#ff8000" stroke-width="2.7" stroke-linejoin="round"/><path d="M497.1 1115.56L502 1121.26L497.1 1126.96L492.2 1121.26Z" fill="#ff8000"/><path d="M620 1104.14L624.9 1109.84L620 1115.54L615.1 1109.84Z" fill="#ff8000"/><path d="M742.9 1103.88L747.8 1109.58L742.9 1115.28L738 1109.58Z" fill="#ff8000"/><path d="M865.8 1102.07L870.7 1107.77L865.8 1113.47L860.9 1107.77Z" fill="#ff8000"/><path d="M497.1 1121.26L620 1106.47L742.9 1102.05L865.8 1094.79" fill="none" stroke="#a408e4" stroke-width="2.7" stroke-linejoin="round"/><path d="M865.8 1089.59V1100.5M860.7 1089.59H870.9M860.7 1100.5H870.9" fill="none" stroke="#a408e4" stroke-width="3.3"/><path d="M497.1 1126.86L502.6 1116.06L491.6 1116.06Z" fill="#a408e4"/><path d="M620 1112.07L625.5 1101.27L614.5 1101.27Z" fill="#a408e4"/><path d="M742.9 1107.65L748.4 1096.85L737.4 1096.85Z" fill="#a408e4"/><path d="M865.8 1100.39L871.3 1089.59L860.3 1089.59Z" fill="#a408e4"/><path d="M497.1 1121.26L620 1098.68L742.9 1092.71L865.8 1088.81" fill="none" stroke="#00c000" stroke-width="2.7" stroke-linejoin="round"/><path d="M620 1093.49V1103.87M614.9 1093.49H625.1M614.9 1103.87H625.1" fill="none" stroke="#00c000" stroke-width="3.3"/><path d="M742.9 1085.7V1099.98M737.8 1085.7H748M737.8 1099.98H748" fill="none" stroke="#00c000" stroke-width="3.3"/><path d="M865.8 1083.1V1094.27M860.7 1083.1H870.9M860.7 1094.27H870.9" fill="none" stroke="#00c000" stroke-width="3.3"/><path d="M497.1 1115.76L502.6 1126.26L491.6 1126.26Z" fill="#00c000"/><path d="M620 1093.18L625.5 1103.68L614.5 1103.68Z" fill="#00c000"/><path d="M742.9 1087.21L748.4 1097.71L737.4 1097.71Z" fill="#00c000"/><path d="M865.8 1083.31L871.3 1093.81L860.3 1093.81Z" fill="#00c000"/><path d="M497.1 1121.26L620 1090.89L742.9 1066.75L865.8 1023.4" fill="none" stroke="#ff0000" stroke-width="2.7" stroke-linejoin="round"/><path d="M742.9 1061.04V1072.72M737.8 1061.04H748M737.8 1072.72H748" fill="none" stroke="#ff0000" stroke-width="3.3"/><path d="M865.8 1016.39V1031.19M860.7 1016.39H870.9M860.7 1031.19H870.9" fill="none" stroke="#ff0000" stroke-width="3.3"/><rect x="491.7" y="1115.86" width="10.8" height="10.8" fill="#ff0000"/><rect x="614.6" y="1085.49" width="10.8" height="10.8" fill="#ff0000"/><rect x="737.5" y="1061.35" width="10.8" height="10.8" fill="#ff0000"/><rect x="860.4" y="1018" width="10.8" height="10.8" fill="#ff0000"/><path d="M497.1 1121.26L620 1087L742.9 1057.66L865.8 972.26" fill="none" stroke="#0404ff" stroke-width="2.7" stroke-linejoin="round"/><path d="M620 1081.81V1092.19M614.9 1081.81H625.1M614.9 1092.19H625.1" fill="none" stroke="#0404ff" stroke-width="3.3"/><path d="M742.9 1051.95V1063.63M737.8 1051.95H748M737.8 1063.63H748" fill="none" stroke="#0404ff" stroke-width="3.3"/><path d="M865.8 960.58V983.94M860.7 960.58H870.9M860.7 983.94H870.9" fill="none" stroke="#0404ff" stroke-width="3.3"/><circle cx="497.1" cy="1121.26" r="5.3" fill="#0404ff"/><circle cx="620" cy="1087" r="5.3" fill="#0404ff"/><circle cx="742.9" cy="1057.66" r="5.3" fill="#0404ff"/><circle cx="865.8" cy="972.26" r="5.3" fill="#0404ff"/><path d="M523 892.45H549.6" stroke="#0404ff" stroke-width="2.7"/><circle cx="536.3" cy="892.45" r="5.3" fill="#0404ff"/><text x="564.1" y="899.2" class="l">Vehicle</text><path d="M523 921.05H549.6" stroke="#ff0000" stroke-width="2.7"/><rect x="530.9" y="915.65" width="10.8" height="10.8" fill="#ff0000"/><text x="564.1" y="927.8" class="l n">50 nM</text><path d="M523 949.35H549.6" stroke="#00c000" stroke-width="2.7"/><path d="M536.3 943.85L541.8 954.35L530.8 954.35Z" fill="#00c000"/><text x="564.1" y="956.1" class="l n">100 nM</text><path d="M523 977.65H549.6" stroke="#a408e4" stroke-width="2.7"/><path d="M536.3 983.25L541.8 972.45L530.8 972.45Z" fill="#a408e4"/><text x="564.1" y="984.4" class="l n">150 nM</text><path d="M523 1005.65H549.6" stroke="#ff8000" stroke-width="2.7"/><path d="M536.3 999.95L541.2 1005.65L536.3 1011.35L531.4 1005.65Z" fill="#ff8000"/><text x="564.1" y="1012.4" class="l n">200 nM</text><path d="M523 1033.95H549.6" stroke="#000000" stroke-width="2.7"/><circle cx="536.3" cy="1033.95" r="4.7" fill="none" stroke="#000000" stroke-width="2.8"/><text x="564.1" y="1040.7" class="l n">250 nM</text></g>
<g><text x="259.3" y="1246.24" class="t">PC3</text><text x="259.3" y="1577" class="x">Time (d)</text><text transform="translate(30.8 1399.3) rotate(-90)" class="y">Cell number (x10<tspan font-size="16" dy="-8.3">5</tspan><tspan dy="8.3">)</tspan></text><path d="M74.2 1274.6V1530M67.2 1523H445.4" fill="none" stroke="#000" stroke-width="2.7" stroke-linejoin="round"/><text x="64.7" y="1529.1" class="k e">0</text><path d="M67.2 1473.52H74.2" stroke="#000" stroke-width="2.7" stroke-linejoin="round"/><text x="64.7" y="1479.62" class="k e">2</text><path d="M67.2 1424.04H74.2" stroke="#000" stroke-width="2.7" stroke-linejoin="round"/><text x="64.7" y="1430.14" class="k e">4</text><path d="M67.2 1374.56H74.2" stroke="#000" stroke-width="2.7" stroke-linejoin="round"/><text x="64.7" y="1380.66" class="k e">6</text><path d="M67.2 1325.08H74.2" stroke="#000" stroke-width="2.7" stroke-linejoin="round"/><text x="64.7" y="1331.18" class="k e">8</text><path d="M67.2 1275.6H74.2" stroke="#000" stroke-width="2.7" stroke-linejoin="round"/><text x="64.7" y="1281.7" class="k e">10</text><text x="74.2" y="1550.7" class="k m">0</text><path d="M197.6 1523V1530" stroke="#000" stroke-width="2.7" stroke-linejoin="round"/><text x="197.6" y="1550.7" class="k m">1</text><path d="M321 1523V1530" stroke="#000" stroke-width="2.7" stroke-linejoin="round"/><text x="321" y="1550.7" class="k m">2</text><path d="M444.4 1523V1530" stroke="#000" stroke-width="2.7" stroke-linejoin="round"/><text x="444.4" y="1550.7" class="k m">3</text><path d="M74.2 1473.38L197.6 1457.81L321 1454.43L444.4 1454.69" fill="none" stroke="#000000" stroke-width="2.7" stroke-linejoin="round"/><path d="M197.6 1451.32V1464.3M192.5 1451.32H202.7M192.5 1464.3H202.7" fill="none" stroke="#000000" stroke-width="3.3"/><path d="M444.4 1448.72V1460.92M439.3 1448.72H449.5M439.3 1460.92H449.5" fill="none" stroke="#000000" stroke-width="3.3"/><circle cx="74.2" cy="1473.38" r="4.7" fill="none" stroke="#000000" stroke-width="2.8"/><circle cx="197.6" cy="1457.81" r="4.7" fill="none" stroke="#000000" stroke-width="2.8"/><circle cx="321" cy="1454.43" r="4.7" fill="none" stroke="#000000" stroke-width="2.8"/><circle cx="444.4" cy="1454.69" r="4.7" fill="none" stroke="#000000" stroke-width="2.8"/><path d="M74.2 1473.38L197.6 1450.8L321 1447.94L444.4 1416.27" fill="none" stroke="#ff8000" stroke-width="2.7" stroke-linejoin="round"/><path d="M321 1440.93V1455.21M315.9 1440.93H326.1M315.9 1455.21H326.1" fill="none" stroke="#ff8000" stroke-width="3.3"/><path d="M74.2 1467.68L79.1 1473.38L74.2 1479.08L69.3 1473.38Z" fill="#ff8000"/><path d="M197.6 1445.1L202.5 1450.8L197.6 1456.5L192.7 1450.8Z" fill="#ff8000"/><path d="M321 1442.24L325.9 1447.94L321 1453.64L316.1 1447.94Z" fill="#ff8000"/><path d="M444.4 1410.57L449.3 1416.27L444.4 1421.97L439.5 1416.27Z" fill="#ff8000"/><path d="M74.2 1473.38L197.6 1448.2L321 1434.44L444.4 1412.38" fill="none" stroke="#a408e4" stroke-width="2.7" stroke-linejoin="round"/><path d="M197.6 1439.63V1459.1M192.5 1439.63H202.7M192.5 1459.1H202.7" fill="none" stroke="#a408e4" stroke-width="3.3"/><path d="M321 1427.95V1440.93M315.9 1427.95H326.1M315.9 1440.93H326.1" fill="none" stroke="#a408e4" stroke-width="3.3"/><path d="M444.4 1399.4V1425.36M439.3 1399.4H449.5M439.3 1425.36H449.5" fill="none" stroke="#a408e4" stroke-width="3.3"/><path d="M74.2 1478.98L79.7 1468.18L68.7 1468.18Z" fill="#a408e4"/><path d="M197.6 1453.8L203.1 1443L192.1 1443Z" fill="#a408e4"/><path d="M321 1440.04L326.5 1429.24L315.5 1429.24Z" fill="#a408e4"/><path d="M444.4 1417.98L449.9 1407.18L438.9 1407.18Z" fill="#a408e4"/><path d="M74.2 1473.38L197.6 1433.92L321 1421.98L444.4 1405.37" fill="none" stroke="#00c000" stroke-width="2.7" stroke-linejoin="round"/><path d="M197.6 1424.06V1443.53M192.5 1424.06H202.7M192.5 1443.53H202.7" fill="none" stroke="#00c000" stroke-width="3.3"/><path d="M321 1414.97V1429.25M315.9 1414.97H326.1M315.9 1429.25H326.1" fill="none" stroke="#00c000" stroke-width="3.3"/><path d="M444.4 1396.8V1413.67M439.3 1396.8H449.5M439.3 1413.67H449.5" fill="none" stroke="#00c000" stroke-width="3.3"/><path d="M74.2 1467.88L79.7 1478.38L68.7 1478.38Z" fill="#00c000"/><path d="M197.6 1428.42L203.1 1438.92L192.1 1438.92Z" fill="#00c000"/><path d="M321 1416.48L326.5 1426.98L315.5 1426.98Z" fill="#00c000"/><path d="M444.4 1399.87L449.9 1410.37L438.9 1410.37Z" fill="#00c000"/><path d="M74.2 1473.38L197.6 1434.44L321 1389.53L444.4 1336.58" fill="none" stroke="#ff0000" stroke-width="2.7" stroke-linejoin="round"/><path d="M197.6 1424.06V1443.53M192.5 1424.06H202.7M192.5 1443.53H202.7" fill="none" stroke="#ff0000" stroke-width="3.3"/><rect x="68.8" y="1467.98" width="10.8" height="10.8" fill="#ff0000"/><rect x="192.2" y="1429.04" width="10.8" height="10.8" fill="#ff0000"/><rect x="315.6" y="1384.13" width="10.8" height="10.8" fill="#ff0000"/><rect x="439" y="1331.18" width="10.8" height="10.8" fill="#ff0000"/><path d="M74.2 1473.38L197.6 1435.74L321 1385.12L444.4 1294.78" fill="none" stroke="#0404ff" stroke-width="2.7" stroke-linejoin="round"/><path d="M321 1368.77V1401.99M315.9 1368.77H326.1M315.9 1401.99H326.1" fill="none" stroke="#0404ff" stroke-width="3.3"/><path d="M444.4 1288.55V1300.75M439.3 1288.55H449.5M439.3 1300.75H449.5" fill="none" stroke="#0404ff" stroke-width="3.3"/><circle cx="74.2" cy="1473.38" r="5.3" fill="#0404ff"/><circle cx="197.6" cy="1435.74" r="5.3" fill="#0404ff"/><circle cx="321" cy="1385.12" r="5.3" fill="#0404ff"/><circle cx="444.4" cy="1294.78" r="5.3" fill="#0404ff"/><path d="M100.6 1268.15H127.2" stroke="#0404ff" stroke-width="2.7"/><circle cx="113.9" cy="1268.15" r="5.3" fill="#0404ff"/><text x="141.5" y="1274.9" class="l">Vehicle</text><path d="M100.6 1296.55H127.2" stroke="#ff0000" stroke-width="2.7"/><rect x="108.5" y="1291.15" width="10.8" height="10.8" fill="#ff0000"/><text x="141.5" y="1303.3" class="l n">50 nM</text><path d="M100.6 1324.95H127.2" stroke="#00c000" stroke-width="2.7"/><path d="M113.9 1319.45L119.4 1329.95L108.4 1329.95Z" fill="#00c000"/><text x="141.5" y="1331.7" class="l n">100 nM</text><path d="M100.6 1353.35H127.2" stroke="#a408e4" stroke-width="2.7"/><path d="M113.9 1358.95L119.4 1348.15L108.4 1348.15Z" fill="#a408e4"/><text x="141.5" y="1360.1" class="l n">150 nM</text><path d="M100.6 1381.85H127.2" stroke="#ff8000" stroke-width="2.7"/><path d="M113.9 1376.15L118.8 1381.85L113.9 1387.55L109 1381.85Z" fill="#ff8000"/><text x="141.5" y="1388.6" class="l n">200 nM</text><path d="M100.6 1410.25H127.2" stroke="#000000" stroke-width="2.7"/><circle cx="113.9" cy="1410.25" r="4.7" fill="none" stroke="#000000" stroke-width="2.8"/><text x="141.5" y="1417" class="l n">250 nM</text></g>
<g><text x="687.9" y="1237.07" class="t">DU145</text><text x="687.9" y="1577" class="x">Time (d)</text><path d="M497.1 1266.5V1529M490.1 1522H879.7" fill="none" stroke="#000" stroke-width="2.7" stroke-linejoin="round"/><text x="487.6" y="1528.1" class="k e">0</text><path d="M490.1 1471.1H497.1" stroke="#000" stroke-width="2.7" stroke-linejoin="round"/><text x="487.6" y="1477.2" class="k e">2</text><path d="M490.1 1420.2H497.1" stroke="#000" stroke-width="2.7" stroke-linejoin="round"/><text x="487.6" y="1426.3" class="k e">4</text><path d="M490.1 1369.3H497.1" stroke="#000" stroke-width="2.7" stroke-linejoin="round"/><text x="487.6" y="1375.4" class="k e">6</text><path d="M490.1 1318.4H497.1" stroke="#000" stroke-width="2.7" stroke-linejoin="round"/><text x="487.6" y="1324.5" class="k e">8</text><path d="M490.1 1267.5H497.1" stroke="#000" stroke-width="2.7" stroke-linejoin="round"/><text x="487.6" y="1273.6" class="k e">10</text><text x="497.1" y="1549.7" class="k m">0</text><path d="M624.3 1522V1529" stroke="#000" stroke-width="2.7" stroke-linejoin="round"/><text x="624.3" y="1549.7" class="k m">1</text><path d="M751.5 1522V1529" stroke="#000" stroke-width="2.7" stroke-linejoin="round"/><text x="751.5" y="1549.7" class="k m">2</text><path d="M878.7 1522V1529" stroke="#000" stroke-width="2.7" stroke-linejoin="round"/><text x="878.7" y="1549.7" class="k m">3</text><path d="M497.1 1471.3L624.3 1492.33L751.5 1494.67L878.7 1505.83" fill="none" stroke="#000000" stroke-width="2.7" stroke-linejoin="round"/><circle cx="497.1" cy="1471.3" r="4.7" fill="none" stroke="#000000" stroke-width="2.8"/><circle cx="624.3" cy="1492.33" r="4.7" fill="none" stroke="#000000" stroke-width="2.8"/><circle cx="751.5" cy="1494.67" r="4.7" fill="none" stroke="#000000" stroke-width="2.8"/><circle cx="878.7" cy="1505.83" r="4.7" fill="none" stroke="#000000" stroke-width="2.8"/><path d="M497.1 1471.3L624.3 1485.06L751.5 1496.23L878.7 1505.31" fill="none" stroke="#ff8000" stroke-width="2.7" stroke-linejoin="round"/><path d="M751.5 1488.96V1504.01M746.4 1488.96H756.6M746.4 1504.01H756.6" fill="none" stroke="#ff8000" stroke-width="3.3"/><path d="M497.1 1465.6L502 1471.3L497.1 1477L492.2 1471.3Z" fill="#ff8000"/><path d="M624.3 1479.36L629.2 1485.06L624.3 1490.76L619.4 1485.06Z" fill="#ff8000"/><path d="M751.5 1490.53L756.4 1496.23L751.5 1501.93L746.6 1496.23Z" fill="#ff8000"/><path d="M878.7 1499.61L883.6 1505.31L878.7 1511.01L873.8 1505.31Z" fill="#ff8000"/><path d="M497.1 1471.3L624.3 1466.89L751.5 1489.74L878.7 1503.23" fill="none" stroke="#a408e4" stroke-width="2.7" stroke-linejoin="round"/><path d="M624.3 1459.1V1475.98M619.2 1459.1H629.4M619.2 1475.98H629.4" fill="none" stroke="#a408e4" stroke-width="3.3"/><path d="M751.5 1480.65V1499.34M746.4 1480.65H756.6M746.4 1499.34H756.6" fill="none" stroke="#a408e4" stroke-width="3.3"/><path d="M878.7 1497.26V1509.72M873.6 1497.26H883.8M873.6 1509.72H883.8" fill="none" stroke="#a408e4" stroke-width="3.3"/><path d="M497.1 1476.9L502.6 1466.1L491.6 1466.1Z" fill="#a408e4"/><path d="M624.3 1472.49L629.8 1461.69L618.8 1461.69Z" fill="#a408e4"/><path d="M751.5 1495.34L757 1484.54L746 1484.54Z" fill="#a408e4"/><path d="M878.7 1508.83L884.2 1498.03L873.2 1498.03Z" fill="#a408e4"/><path d="M497.1 1471.3L624.3 1458.33L751.5 1455.99L878.7 1466.89" fill="none" stroke="#00c000" stroke-width="2.7" stroke-linejoin="round"/><path d="M624.3 1451.32V1466.89M619.2 1451.32H629.4M619.2 1466.89H629.4" fill="none" stroke="#00c000" stroke-width="3.3"/><path d="M751.5 1450.02V1463M746.4 1450.02H756.6M746.4 1463H756.6" fill="none" stroke="#00c000" stroke-width="3.3"/><path d="M878.7 1461.18V1472.86M873.6 1461.18H883.8M873.6 1472.86H883.8" fill="none" stroke="#00c000" stroke-width="3.3"/><path d="M497.1 1465.8L502.6 1476.3L491.6 1476.3Z" fill="#00c000"/><path d="M624.3 1452.83L629.8 1463.33L618.8 1463.33Z" fill="#00c000"/><path d="M751.5 1450.49L757 1460.99L746 1460.99Z" fill="#00c000"/><path d="M878.7 1461.39L884.2 1471.89L873.2 1471.89Z" fill="#00c000"/><path d="M497.1 1471.3L624.3 1446.12L751.5 1430.55L878.7 1334.5" fill="none" stroke="#ff0000" stroke-width="2.7" stroke-linejoin="round"/><path d="M624.3 1438.34V1452.61M619.2 1438.34H629.4M619.2 1452.61H629.4" fill="none" stroke="#ff0000" stroke-width="3.3"/><path d="M751.5 1424.06V1437.04M746.4 1424.06H756.6M746.4 1437.04H756.6" fill="none" stroke="#ff0000" stroke-width="3.3"/><path d="M878.7 1321.52V1347.48M873.6 1321.52H883.8M873.6 1347.48H883.8" fill="none" stroke="#ff0000" stroke-width="3.3"/><rect x="491.7" y="1465.9" width="10.8" height="10.8" fill="#ff0000"/><rect x="618.9" y="1440.72" width="10.8" height="10.8" fill="#ff0000"/><rect x="746.1" y="1425.15" width="10.8" height="10.8" fill="#ff0000"/><rect x="873.3" y="1329.1" width="10.8" height="10.8" fill="#ff0000"/><path d="M497.1 1471.3L624.3 1433.14L751.5 1392.39L878.7 1286.47" fill="none" stroke="#0404ff" stroke-width="2.7" stroke-linejoin="round"/><path d="M624.3 1425.36V1440.93M619.2 1425.36H629.4M619.2 1440.93H629.4" fill="none" stroke="#0404ff" stroke-width="3.3"/><path d="M751.5 1380.45V1404.59M746.4 1380.45H756.6M746.4 1404.59H756.6" fill="none" stroke="#0404ff" stroke-width="3.3"/><path d="M878.7 1280.76V1292.19M873.6 1280.76H883.8M873.6 1292.19H883.8" fill="none" stroke="#0404ff" stroke-width="3.3"/><circle cx="497.1" cy="1471.3" r="5.3" fill="#0404ff"/><circle cx="624.3" cy="1433.14" r="5.3" fill="#0404ff"/><circle cx="751.5" cy="1392.39" r="5.3" fill="#0404ff"/><circle cx="878.7" cy="1286.47" r="5.3" fill="#0404ff"/><path d="M524.3 1259.35H550.9" stroke="#0404ff" stroke-width="2.7"/><circle cx="537.6" cy="1259.35" r="5.3" fill="#0404ff"/><text x="566.4" y="1266.1" class="l">Vehicle</text><path d="M524.3 1288.75H550.9" stroke="#ff0000" stroke-width="2.7"/><rect x="532.2" y="1283.35" width="10.8" height="10.8" fill="#ff0000"/><text x="566.4" y="1295.5" class="l n">50 nM</text><path d="M524.3 1317.75H550.9" stroke="#00c000" stroke-width="2.7"/><path d="M537.6 1312.25L543.1 1322.75L532.1 1322.75Z" fill="#00c000"/><text x="566.4" y="1324.5" class="l n">100 nM</text><path d="M524.3 1347.15H550.9" stroke="#a408e4" stroke-width="2.7"/><path d="M537.6 1352.75L543.1 1341.95L532.1 1341.95Z" fill="#a408e4"/><text x="566.4" y="1353.9" class="l n">150 nM</text><path d="M524.3 1376.25H550.9" stroke="#ff8000" stroke-width="2.7"/><path d="M537.6 1370.55L542.5 1376.25L537.6 1381.95L532.7 1376.25Z" fill="#ff8000"/><text x="566.4" y="1383" class="l n">200 nM</text><path d="M524.3 1405.55H550.9" stroke="#000000" stroke-width="2.7"/><circle cx="537.6" cy="1405.55" r="4.7" fill="none" stroke="#000000" stroke-width="2.8"/><text x="566.4" y="1412.3" class="l n">250 nM</text></g>
<text transform="translate(1.8 31) scale(1.0 1)" class="p" font-size="41.5">A</text>
<text transform="translate(0.6 871.6) scale(0.95 1)" class="p" font-size="39.5">B</text>
<text transform="translate(976.2 37) scale(0.94 1)" class="p" font-size="40.5">C</text>
<text transform="translate(970.2 871) scale(0.95 1)" class="p" font-size="39.5">D</text>
<defs>
<filter id="b1" x="-30%" y="-80%" width="160%" height="260%"><feGaussianBlur stdDeviation="1.9"/></filter>
<filter id="b2" x="-30%" y="-80%" width="160%" height="260%"><feGaussianBlur stdDeviation="2.8"/></filter>
<filter id="b3" x="-40%" y="-100%" width="180%" height="300%"><feGaussianBlur stdDeviation="4.5"/></filter>
</defs>
<svg x="1123.17" y="121.17" width="196.66" height="76.73" viewBox="1123.17 121.17 196.66 76.73" overflow="hidden"><rect x="1123.17" y="121.17" width="196.66" height="76.73" fill="#e9e9e9"/><rect x="1142.54" y="136.82" width="43.95" height="13.41" rx="4.83" ry="5.36" fill="#000" opacity="0.22" filter="url(#b3)"/><rect x="1200.65" y="137.56" width="43.95" height="12.66" rx="4.83" ry="5.07" fill="#000" opacity="0.2" filter="url(#b3)"/><rect x="1142.54" y="121.17" width="43.95" height="18.62" rx="4.83" ry="6" fill="#000" opacity="0.06" filter="url(#b3)"/><rect x="1200.65" y="121.17" width="43.95" height="18.62" rx="4.83" ry="6" fill="#000" opacity="0.06" filter="url(#b3)"/><rect x="1139.8" y="147.23" width="48.7" height="21.64" rx="5.03" ry="6.66" fill="#000" opacity="0.22" filter="url(#b3)"/><rect x="1141.3" y="149.73" width="45.7" height="16.64" rx="5.03" ry="6.66" fill="#000" opacity="1" filter="url(#b1)"/><rect x="1198.27" y="147.97" width="48.32" height="19.78" rx="4.99" ry="5.91" fill="#000" opacity="0.22" filter="url(#b3)"/><rect x="1199.77" y="150.47" width="45.32" height="14.78" rx="4.99" ry="5.91" fill="#000" opacity="1" filter="url(#b1)"/><rect x="1261.93" y="154.52" width="40.94" height="8.91" rx="4.5" ry="3.56" fill="#000" opacity="0.42" filter="url(#b2)"/></svg>
<svg x="1348.88" y="121.17" width="195.17" height="75.98" viewBox="1348.88 121.17 195.17 75.98" overflow="hidden"><rect x="1348.88" y="121.17" width="195.17" height="75.98" fill="#f4f4f4"/><rect x="1367.14" y="141.66" width="44.7" height="9.31" rx="4.92" ry="3.72" fill="#000" opacity="0.12" filter="url(#b3)"/><rect x="1428.59" y="141.66" width="44.7" height="9.31" rx="4.92" ry="3.72" fill="#000" opacity="0.12" filter="url(#b3)"/><rect x="1488.19" y="139.8" width="46.56" height="9.31" rx="5.12" ry="3.72" fill="#000" opacity="0.12" filter="url(#b3)"/><rect x="1364.02" y="149.83" width="50.93" height="20.15" rx="5.27" ry="6.06" fill="#000" opacity="0.22" filter="url(#b3)"/><rect x="1365.52" y="152.33" width="47.93" height="15.15" rx="5.27" ry="6.06" fill="#000" opacity="1" filter="url(#b1)"/><rect x="1426.59" y="149.09" width="48.7" height="20.9" rx="5.03" ry="6.36" fill="#000" opacity="0.22" filter="url(#b3)"/><rect x="1428.09" y="151.59" width="45.7" height="15.9" rx="5.03" ry="6.36" fill="#000" opacity="1" filter="url(#b1)"/><rect x="1485.07" y="147.23" width="52.05" height="20.9" rx="5.4" ry="6.36" fill="#000" opacity="0.22" filter="url(#b3)" transform="rotate(-2 1511.09 157.67)"/><rect x="1486.57" y="149.73" width="49.05" height="15.9" rx="5.4" ry="6.36" fill="#000" opacity="1" filter="url(#b1)" transform="rotate(-2 1511.09 157.67)"/></svg>
<svg x="1573.85" y="119.31" width="194.42" height="75.61" viewBox="1573.85 119.31 194.42 75.61" overflow="hidden"><rect x="1573.85" y="119.31" width="194.42" height="75.61" fill="#ececec"/><rect x="1585.02" y="115.59" width="51.4" height="13.04" rx="5.5" ry="5.21" fill="#000" opacity="0.16" filter="url(#b3)"/><rect x="1649.09" y="115.59" width="51.4" height="13.04" rx="5.5" ry="5.21" fill="#000" opacity="0.2" filter="url(#b3)"/><rect x="1711.66" y="115.59" width="46.56" height="13.04" rx="5.12" ry="5.21" fill="#000" opacity="0.14" filter="url(#b3)"/><rect x="1585.02" y="128.62" width="51.4" height="16.76" rx="5.5" ry="6" fill="#000" opacity="0.1" filter="url(#b3)"/><rect x="1649.09" y="128.62" width="51.4" height="14.9" rx="5.5" ry="5.96" fill="#000" opacity="0.1" filter="url(#b3)"/><rect x="1711.66" y="128.62" width="46.56" height="16.76" rx="5.12" ry="6" fill="#000" opacity="0.1" filter="url(#b3)"/><rect x="1581.91" y="141.64" width="56.52" height="22.02" rx="5.5" ry="6.81" fill="#000" opacity="0.22" filter="url(#b3)"/><rect x="1583.41" y="144.14" width="53.52" height="17.02" rx="5.5" ry="6.81" fill="#000" opacity="1" filter="url(#b1)"/><rect x="1647.09" y="140.52" width="54.65" height="23.13" rx="5.5" ry="7.25" fill="#000" opacity="0.22" filter="url(#b3)"/><rect x="1648.59" y="143.02" width="51.65" height="18.13" rx="5.5" ry="7.25" fill="#000" opacity="1" filter="url(#b1)"/><rect x="1709.66" y="143.5" width="49.81" height="20.15" rx="5.15" ry="6.06" fill="#000" opacity="0.22" filter="url(#b3)"/><rect x="1711.16" y="146" width="46.81" height="15.15" rx="5.15" ry="6.06" fill="#000" opacity="0.97" filter="url(#b1)"/></svg>
<svg x="1123.17" y="206.84" width="196.66" height="77.84" viewBox="1123.17 206.84 196.66 77.84" overflow="hidden"><rect x="1123.17" y="206.84" width="196.66" height="77.84" fill="#f0f0f0"/><rect x="1133.09" y="235.87" width="53.54" height="20.9" rx="5.5" ry="6.36" fill="#000" opacity="0.22" filter="url(#b3)"/><rect x="1134.59" y="238.37" width="50.54" height="15.9" rx="5.5" ry="6.36" fill="#000" opacity="1" filter="url(#b1)"/><rect x="1196.41" y="236.62" width="50.19" height="18.29" rx="5.19" ry="5.32" fill="#000" opacity="0.22" filter="url(#b3)"/><rect x="1197.91" y="239.12" width="47.19" height="13.29" rx="5.19" ry="5.32" fill="#000" opacity="1" filter="url(#b1)"/><rect x="1259.73" y="239.97" width="46.09" height="13.08" rx="4.74" ry="3.23" fill="#000" opacity="0.22" filter="url(#b3)" transform="rotate(4 1282.77 246.51)"/><rect x="1261.23" y="242.47" width="43.09" height="8.08" rx="4.74" ry="3.23" fill="#000" opacity="0.85" filter="url(#b1)" transform="rotate(4 1282.77 246.51)"/></svg>
<svg x="1348.88" y="206.84" width="195.17" height="77.1" viewBox="1348.88 206.84 195.17 77.1" overflow="hidden"><rect x="1348.88" y="206.84" width="195.17" height="77.1" fill="#f1f1f1"/><rect x="1364.02" y="238.11" width="50.19" height="18.66" rx="5.19" ry="5.47" fill="#000" opacity="0.22" filter="url(#b3)"/><rect x="1365.52" y="240.61" width="47.19" height="13.66" rx="5.19" ry="5.47" fill="#000" opacity="1" filter="url(#b1)"/><rect x="1423.61" y="238.11" width="50.93" height="17.92" rx="5.27" ry="5.17" fill="#000" opacity="0.22" filter="url(#b3)"/><rect x="1425.11" y="240.61" width="47.93" height="12.92" rx="5.27" ry="5.17" fill="#000" opacity="1" filter="url(#b1)"/><rect x="1485.07" y="238.11" width="49.07" height="16.8" rx="5.07" ry="4.72" fill="#000" opacity="0.22" filter="url(#b3)"/><rect x="1486.57" y="240.61" width="46.07" height="11.8" rx="5.07" ry="4.72" fill="#000" opacity="1" filter="url(#b1)"/></svg>
<svg x="1573.85" y="208.7" width="194.42" height="75.24" viewBox="1573.85 208.7 194.42 75.24" overflow="hidden"><rect x="1573.85" y="208.7" width="194.42" height="75.24" fill="#f8f8f8"/><rect x="1585.63" y="236.62" width="56.52" height="17.17" rx="5.5" ry="4.87" fill="#000" opacity="0.22" filter="url(#b3)"/><rect x="1587.13" y="239.12" width="53.52" height="12.17" rx="5.5" ry="4.87" fill="#000" opacity="1" filter="url(#b1)"/><rect x="1648.95" y="236.62" width="54.65" height="17.17" rx="5.5" ry="4.87" fill="#000" opacity="0.22" filter="url(#b3)"/><rect x="1650.45" y="239.12" width="51.65" height="12.17" rx="5.5" ry="4.87" fill="#000" opacity="1" filter="url(#b1)"/><rect x="1711.15" y="236.62" width="52.05" height="14.57" rx="5.4" ry="3.83" fill="#000" opacity="0.22" filter="url(#b3)" transform="rotate(-2 1737.17 243.9)"/><rect x="1712.65" y="239.12" width="49.05" height="9.57" rx="5.4" ry="3.83" fill="#000" opacity="1" filter="url(#b1)" transform="rotate(-2 1737.17 243.9)"/></svg>
<svg x="1123.17" y="294.37" width="196.66" height="74.49" viewBox="1123.17 294.37 196.66 74.49" overflow="hidden"><rect x="1123.17" y="294.37" width="196.66" height="74.49" fill="#f4f4f4"/><rect x="1136.07" y="323.77" width="50.56" height="15.68" rx="5.23" ry="4.27" fill="#000" opacity="0.22" filter="url(#b3)" transform="rotate(-7 1161.35 331.61)"/><rect x="1137.57" y="326.27" width="47.56" height="10.68" rx="5.23" ry="4.27" fill="#000" opacity="0.95" filter="url(#b1)" transform="rotate(-7 1161.35 331.61)"/><rect x="1199.39" y="321.91" width="48.7" height="14.94" rx="5.03" ry="3.98" fill="#000" opacity="0.22" filter="url(#b3)" transform="rotate(-1 1223.74 329.38)"/><rect x="1200.89" y="324.41" width="45.7" height="9.94" rx="5.03" ry="3.98" fill="#000" opacity="0.97" filter="url(#b1)" transform="rotate(-1 1223.74 329.38)"/><rect x="1265.65" y="329.58" width="39.83" height="4.81" rx="4.38" ry="1.93" fill="#000" opacity="0.2" filter="url(#b2)"/></svg>
<svg x="1348.88" y="293.62" width="195.17" height="75.98" viewBox="1348.88 293.62 195.17 75.98" overflow="hidden"><rect x="1348.88" y="293.62" width="195.17" height="75.98" fill="#f6f6f6"/><rect x="1359.55" y="330.1" width="46.09" height="14.94" rx="4.74" ry="3.98" fill="#000" opacity="0.22" filter="url(#b3)" transform="rotate(-2 1382.59 337.57)"/><rect x="1361.05" y="332.6" width="43.09" height="9.94" rx="4.74" ry="3.98" fill="#000" opacity="0.88" filter="url(#b1)" transform="rotate(-2 1382.59 337.57)"/><rect x="1419.14" y="326.75" width="49.81" height="15.68" rx="5.15" ry="4.27" fill="#000" opacity="0.22" filter="url(#b3)" transform="rotate(-2 1444.05 334.59)"/><rect x="1420.64" y="329.25" width="46.81" height="10.68" rx="5.15" ry="4.27" fill="#000" opacity="0.97" filter="url(#b1)" transform="rotate(-2 1444.05 334.59)"/><rect x="1481.34" y="325.63" width="49.07" height="15.68" rx="5.07" ry="4.27" fill="#000" opacity="0.22" filter="url(#b3)" transform="rotate(-1 1505.88 333.48)"/><rect x="1482.84" y="328.13" width="46.07" height="10.68" rx="5.07" ry="4.27" fill="#000" opacity="0.97" filter="url(#b1)" transform="rotate(-1 1505.88 333.48)"/></svg>
<svg x="1573.11" y="293.62" width="195.17" height="74.49" viewBox="1573.11 293.62 195.17 74.49" overflow="hidden"><rect x="1573.11" y="293.62" width="195.17" height="74.49" fill="#f7f7f7"/><rect x="1586.89" y="294.37" width="44.7" height="26.07" rx="4.92" ry="6" fill="#000" opacity="0.04" filter="url(#b3)"/><rect x="1652.07" y="294.37" width="44.7" height="24.21" rx="4.92" ry="6" fill="#000" opacity="0.06" filter="url(#b3)"/><rect x="1715.39" y="294.37" width="42.83" height="26.07" rx="4.71" ry="6" fill="#000" opacity="0.04" filter="url(#b3)"/><rect x="1580.79" y="320.42" width="53.91" height="16.43" rx="5.5" ry="4.57" fill="#000" opacity="0.22" filter="url(#b3)" transform="rotate(-2 1607.74 328.63)"/><rect x="1582.29" y="322.92" width="50.91" height="11.43" rx="5.5" ry="4.57" fill="#000" opacity="1" filter="url(#b1)" transform="rotate(-2 1607.74 328.63)"/><rect x="1647.83" y="318.56" width="50.93" height="17.17" rx="5.27" ry="4.87" fill="#000" opacity="0.22" filter="url(#b3)" transform="rotate(1 1673.3 327.14)"/><rect x="1649.33" y="321.06" width="47.93" height="12.17" rx="5.27" ry="4.87" fill="#000" opacity="1" filter="url(#b1)" transform="rotate(1 1673.3 327.14)"/><rect x="1712.27" y="320.79" width="48.32" height="14.94" rx="4.99" ry="3.98" fill="#000" opacity="0.22" filter="url(#b3)" transform="rotate(2 1736.43 328.26)"/><rect x="1713.77" y="323.29" width="45.32" height="9.94" rx="4.99" ry="3.98" fill="#000" opacity="1" filter="url(#b1)" transform="rotate(2 1736.43 328.26)"/></svg>
<svg x="1123.17" y="376.7" width="196.66" height="75.98" viewBox="1123.17 376.7 196.66 75.98" overflow="hidden"><rect x="1123.17" y="376.7" width="196.66" height="75.98" fill="#f3f3f3"/><rect x="1136.21" y="424.01" width="47.3" height="16.76" rx="5.2" ry="6" fill="#000" opacity="0.13" filter="url(#b3)"/><rect x="1198.41" y="424.01" width="43.95" height="16.76" rx="4.83" ry="6" fill="#000" opacity="0.12" filter="url(#b3)"/><rect x="1258" y="422.14" width="44.7" height="14.9" rx="4.92" ry="5.96" fill="#000" opacity="0.07" filter="url(#b3)"/><rect x="1134.54" y="406.06" width="49.9" height="19.13" rx="5.16" ry="5.65" fill="#000" opacity="0.22" filter="url(#b3)"/><rect x="1136.04" y="408.56" width="46.9" height="14.13" rx="5.16" ry="5.65" fill="#000" opacity="0.9" filter="url(#b2)"/><rect x="1197.11" y="405.32" width="46.55" height="19.13" rx="4.79" ry="5.65" fill="#000" opacity="0.22" filter="url(#b3)"/><rect x="1198.61" y="407.82" width="43.55" height="14.13" rx="4.79" ry="5.65" fill="#000" opacity="0.9" filter="url(#b2)"/><rect x="1258.2" y="407.82" width="44.67" height="11.15" rx="4.91" ry="4.46" fill="#000" opacity="0.45" filter="url(#b2)" transform="rotate(-2 1280.54 413.39)"/></svg>
<svg x="1348.88" y="376.7" width="195.17" height="75.98" viewBox="1348.88 376.7 195.17 75.98" overflow="hidden"><rect x="1348.88" y="376.7" width="195.17" height="75.98" fill="#f5f5f5"/><rect x="1362.29" y="425.87" width="49.54" height="17.88" rx="5.45" ry="6" fill="#000" opacity="0.22" filter="url(#b3)"/><rect x="1427.1" y="425.87" width="44.32" height="16.76" rx="4.88" ry="6" fill="#000" opacity="0.16" filter="url(#b3)"/><rect x="1486.7" y="425.87" width="46.19" height="16.76" rx="5.08" ry="6" fill="#000" opacity="0.15" filter="url(#b3)"/><rect x="1359.55" y="404.62" width="54.65" height="21.64" rx="5.5" ry="6.66" fill="#000" opacity="0.22" filter="url(#b3)"/><rect x="1361.05" y="407.12" width="51.65" height="16.64" rx="5.5" ry="6.66" fill="#000" opacity="1" filter="url(#b1)"/><rect x="1424.36" y="405.36" width="49.44" height="19.04" rx="5.11" ry="5.61" fill="#000" opacity="0.22" filter="url(#b3)"/><rect x="1425.86" y="407.86" width="46.44" height="14.04" rx="5.11" ry="5.61" fill="#000" opacity="1" filter="url(#b1)"/><rect x="1484.32" y="407.97" width="50.56" height="17.17" rx="5.23" ry="4.87" fill="#000" opacity="0.22" filter="url(#b3)" transform="rotate(2 1509.6 416.56)"/><rect x="1485.82" y="410.47" width="47.56" height="12.17" rx="5.23" ry="4.87" fill="#000" opacity="1" filter="url(#b1)" transform="rotate(2 1509.6 416.56)"/></svg>
<svg x="1573.85" y="377.45" width="194.42" height="73.75" viewBox="1573.85 377.45 194.42 73.75" overflow="hidden"><rect x="1573.85" y="377.45" width="194.42" height="73.75" fill="#fafafa"/><rect x="1586.75" y="404.62" width="55.4" height="20.9" rx="5.5" ry="6.36" fill="#000" opacity="0.22" filter="url(#b3)" transform="rotate(-2 1614.45 415.07)"/><rect x="1588.25" y="407.12" width="52.4" height="15.9" rx="5.5" ry="6.36" fill="#000" opacity="1" filter="url(#b1)" transform="rotate(-2 1614.45 415.07)"/><rect x="1650.81" y="402.38" width="52.79" height="20.15" rx="5.48" ry="6.06" fill="#000" opacity="0.22" filter="url(#b3)" transform="rotate(-1 1677.21 412.46)"/><rect x="1652.31" y="404.88" width="49.79" height="15.15" rx="5.48" ry="6.06" fill="#000" opacity="1" filter="url(#b1)" transform="rotate(-1 1677.21 412.46)"/><rect x="1712.27" y="402.38" width="48.32" height="19.41" rx="4.99" ry="5.76" fill="#000" opacity="0.22" filter="url(#b3)" transform="rotate(1 1736.43 412.09)"/><rect x="1713.77" y="404.88" width="45.32" height="14.41" rx="4.99" ry="5.76" fill="#000" opacity="1" filter="url(#b1)" transform="rotate(1 1736.43 412.09)"/></svg>
<svg x="1123.17" y="463.12" width="196.66" height="74.49" viewBox="1123.17 463.12 196.66 74.49" overflow="hidden"><rect x="1123.17" y="463.12" width="196.66" height="74.49" fill="#e8e8e8"/><rect x="1140.13" y="494.23" width="37.96" height="10.4" rx="4.18" ry="4.16" fill="#000" opacity="0.42" filter="url(#b2)" transform="rotate(6 1159.12 499.43)"/><rect x="1202.7" y="493.59" width="43.94" height="17.26" rx="4.5" ry="4.91" fill="#000" opacity="0.22" filter="url(#b3)" transform="rotate(-5 1224.67 502.22)"/><rect x="1204.2" y="496.09" width="40.94" height="12.26" rx="4.5" ry="4.91" fill="#000" opacity="0.93" filter="url(#b2)" transform="rotate(-5 1224.67 502.22)"/><rect x="1266.02" y="493.59" width="43.2" height="16.52" rx="4.42" ry="4.61" fill="#000" opacity="0.22" filter="url(#b3)"/><rect x="1267.52" y="496.09" width="40.2" height="11.52" rx="4.42" ry="4.61" fill="#000" opacity="0.97" filter="url(#b2)"/></svg>
<svg x="1348.88" y="463.12" width="195.17" height="72.63" viewBox="1348.88 463.12 195.17 72.63" overflow="hidden"><rect x="1348.88" y="463.12" width="195.17" height="72.63" fill="#e9e9e9"/><rect x="1364.72" y="490.98" width="39.1" height="16.15" rx="3.97" ry="4.46" fill="#000" opacity="0.22" filter="url(#b3)" transform="rotate(-2 1384.27 499.06)"/><rect x="1366.22" y="493.48" width="36.1" height="11.15" rx="3.97" ry="4.46" fill="#000" opacity="0.93" filter="url(#b2)" transform="rotate(-2 1384.27 499.06)"/><rect x="1425.06" y="488.75" width="42.08" height="20.99" rx="4.3" ry="6.4" fill="#000" opacity="0.22" filter="url(#b3)"/><rect x="1426.56" y="491.25" width="39.08" height="15.99" rx="4.3" ry="6.4" fill="#000" opacity="1" filter="url(#b2)"/><rect x="1489.49" y="489.87" width="38.36" height="17.26" rx="3.89" ry="4.91" fill="#000" opacity="0.22" filter="url(#b3)"/><rect x="1490.99" y="492.37" width="35.36" height="12.26" rx="3.89" ry="4.91" fill="#000" opacity="0.97" filter="url(#b2)"/></svg>
<svg x="1573.11" y="463.12" width="195.17" height="72.63" viewBox="1573.11 463.12 195.17 72.63" overflow="hidden"><rect x="1573.11" y="463.12" width="195.17" height="72.63" fill="#e0e0e0"/><rect x="1648.34" y="464.98" width="48.42" height="68.91" rx="5.33" ry="6" fill="#000" opacity="0.04" filter="url(#b3)"/><rect x="1707.94" y="464.98" width="59.59" height="70.77" rx="5.5" ry="6" fill="#000" opacity="0.08" filter="url(#b3)"/><rect x="1719.11" y="467.58" width="26.07" height="10.43" rx="2.87" ry="4.17" fill="#000" opacity="0.1" filter="url(#b3)"/><rect x="1584.51" y="499.6" width="52.05" height="13.45" rx="5.4" ry="3.38" fill="#000" opacity="0.22" filter="url(#b3)" transform="rotate(-2 1610.54 506.32)"/><rect x="1586.01" y="502.1" width="49.05" height="8.45" rx="5.4" ry="3.38" fill="#000" opacity="0.97" filter="url(#b1)" transform="rotate(-2 1610.54 506.32)"/><rect x="1647.09" y="495.5" width="50.19" height="13.82" rx="5.19" ry="3.53" fill="#000" opacity="0.22" filter="url(#b3)" transform="rotate(-2 1672.18 502.41)"/><rect x="1648.59" y="498" width="47.19" height="8.82" rx="5.19" ry="3.53" fill="#000" opacity="0.9" filter="url(#b1)" transform="rotate(-2 1672.18 502.41)"/><rect x="1706.68" y="494.75" width="50.93" height="13.45" rx="5.27" ry="3.38" fill="#000" opacity="0.22" filter="url(#b3)" transform="rotate(-1 1732.15 501.48)"/><rect x="1708.18" y="497.25" width="47.93" height="8.45" rx="5.27" ry="3.38" fill="#000" opacity="0.85" filter="url(#b1)" transform="rotate(-1 1732.15 501.48)"/></svg>
<svg x="1123.17" y="546.92" width="196.66" height="75.24" viewBox="1123.17 546.92 196.66 75.24" overflow="hidden"><rect x="1123.17" y="546.92" width="196.66" height="75.24" fill="#ededed"/><rect x="1140.13" y="586.23" width="27.53" height="8.91" rx="3.03" ry="3.56" fill="#000" opacity="0.07" filter="url(#b2)"/><rect x="1204.2" y="581.39" width="39.08" height="9.28" rx="4.3" ry="3.71" fill="#000" opacity="0.3" filter="url(#b2)" transform="rotate(-3 1223.74 586.03)"/><rect x="1263.45" y="576.7" width="37.89" height="19.04" rx="3.84" ry="5.61" fill="#000" opacity="0.22" filter="url(#b3)"/><rect x="1264.95" y="579.2" width="34.89" height="14.04" rx="3.84" ry="5.61" fill="#000" opacity="1" filter="url(#b1)"/></svg>
<svg x="1348.88" y="546.92" width="195.17" height="75.24" viewBox="1348.88 546.92 195.17 75.24" overflow="hidden"><rect x="1348.88" y="546.92" width="195.17" height="75.24" fill="#f6f6f6"/><rect x="1362.49" y="576.17" width="46.53" height="10.77" rx="5.12" ry="4.31" fill="#000" opacity="0.2" filter="url(#b2)"/><rect x="1427.67" y="574.31" width="39.08" height="12.64" rx="4.3" ry="5.05" fill="#000" opacity="0.24" filter="url(#b2)"/><rect x="1489.13" y="575.43" width="40.94" height="11.52" rx="4.5" ry="4.61" fill="#000" opacity="0.2" filter="url(#b2)"/><rect x="1362.29" y="597.2" width="46.93" height="18.62" rx="5.16" ry="6" fill="#000" opacity="0.08" filter="url(#b3)"/><rect x="1427.47" y="597.2" width="39.48" height="18.62" rx="4.34" ry="6" fill="#000" opacity="0.07" filter="url(#b3)"/><rect x="1488.93" y="597.2" width="41.34" height="18.62" rx="4.55" ry="6" fill="#000" opacity="0.08" filter="url(#b3)"/></svg>
<svg x="1573.11" y="546.92" width="195.17" height="73.75" viewBox="1573.11 546.92 195.17 73.75" overflow="hidden"><rect x="1573.11" y="546.92" width="195.17" height="73.75" fill="#f5f5f5"/><rect x="1585.27" y="578.08" width="47.93" height="5.84" rx="5.27" ry="2.34" fill="#000" opacity="0.3" filter="url(#b1)"/><rect x="1648.59" y="576.96" width="46.07" height="6.96" rx="5.07" ry="2.78" fill="#000" opacity="0.36" filter="url(#b1)"/><rect x="1706.32" y="576.96" width="51.65" height="5.84" rx="5.5" ry="2.34" fill="#000" opacity="0.24" filter="url(#b1)"/><rect x="1708.88" y="591.44" width="52.12" height="6.68" rx="5.5" ry="2.67" fill="#000" opacity="0.4" filter="url(#b2)" transform="rotate(3 1734.94 594.78)"/><rect x="1651.15" y="592.56" width="40.94" height="5.56" rx="4.5" ry="2.22" fill="#000" opacity="0.14" filter="url(#b2)"/><rect x="1600.67" y="593.48" width="19" height="22.35" rx="2.09" ry="6" fill="#000" opacity="0.1" filter="url(#b3)"/></svg>
<svg x="1123.17" y="630.49" width="196.66" height="75.24" viewBox="1123.17 630.49 196.66 75.24" overflow="hidden"><rect x="1123.17" y="630.49" width="196.66" height="75.24" fill="#e8e8e8"/><rect x="1131.23" y="657.65" width="58.38" height="20.9" rx="5.5" ry="6.36" fill="#000" opacity="0.22" filter="url(#b3)"/><rect x="1132.73" y="660.15" width="55.38" height="15.9" rx="5.5" ry="6.36" fill="#000" opacity="1" filter="url(#b1)"/><rect x="1194.55" y="656.54" width="54.65" height="20.9" rx="5.5" ry="6.36" fill="#000" opacity="0.22" filter="url(#b3)"/><rect x="1196.05" y="659.04" width="51.65" height="15.9" rx="5.5" ry="6.36" fill="#000" opacity="1" filter="url(#b1)"/><rect x="1257.12" y="657.65" width="53.54" height="19.78" rx="5.5" ry="5.91" fill="#000" opacity="0.22" filter="url(#b3)"/><rect x="1258.62" y="660.15" width="50.54" height="14.78" rx="5.5" ry="5.91" fill="#000" opacity="1" filter="url(#b1)"/></svg>
<svg x="1348.88" y="630.49" width="195.91" height="75.24" viewBox="1348.88 630.49 195.91 75.24" overflow="hidden"><rect x="1348.88" y="630.49" width="195.91" height="75.24" fill="#e8e8e8"/><rect x="1353.59" y="659.52" width="62.1" height="20.9" rx="5.5" ry="6.36" fill="#000" opacity="0.22" filter="url(#b3)" transform="rotate(-3 1384.64 669.97)"/><rect x="1355.09" y="662.02" width="59.1" height="15.9" rx="5.5" ry="6.36" fill="#000" opacity="1" filter="url(#b1)" transform="rotate(-3 1384.64 669.97)"/><rect x="1421.75" y="659.52" width="55.77" height="19.04" rx="5.5" ry="5.61" fill="#000" opacity="0.22" filter="url(#b3)" transform="rotate(-2 1449.64 669.03)"/><rect x="1423.25" y="662.02" width="52.77" height="14.04" rx="5.5" ry="5.61" fill="#000" opacity="1" filter="url(#b1)" transform="rotate(-2 1449.64 669.03)"/><rect x="1482.46" y="656.16" width="58.38" height="19.78" rx="5.5" ry="5.91" fill="#000" opacity="0.22" filter="url(#b3)" transform="rotate(3 1511.65 666.06)"/><rect x="1483.96" y="658.66" width="55.38" height="14.78" rx="5.5" ry="5.91" fill="#000" opacity="1" filter="url(#b1)" transform="rotate(3 1511.65 666.06)"/></svg>
<svg x="1573.85" y="631.23" width="194.42" height="74.49" viewBox="1573.85 631.23 194.42 74.49" overflow="hidden"><rect x="1573.85" y="631.23" width="194.42" height="74.49" fill="#f5f5f5"/><rect x="1579.3" y="661.38" width="63.59" height="17.92" rx="5.5" ry="5.17" fill="#000" opacity="0.22" filter="url(#b3)"/><rect x="1580.8" y="663.88" width="60.59" height="12.92" rx="5.5" ry="5.17" fill="#000" opacity="1" filter="url(#b1)"/><rect x="1645.97" y="662.12" width="58.75" height="17.17" rx="5.5" ry="4.87" fill="#000" opacity="0.22" filter="url(#b3)" transform="rotate(1 1675.35 670.71)"/><rect x="1647.47" y="664.62" width="55.75" height="12.17" rx="5.5" ry="4.87" fill="#000" opacity="1" filter="url(#b1)" transform="rotate(1 1675.35 670.71)"/><rect x="1707.8" y="662.12" width="56.52" height="17.17" rx="5.5" ry="4.87" fill="#000" opacity="0.22" filter="url(#b3)" transform="rotate(1 1736.06 670.71)"/><rect x="1709.3" y="664.62" width="53.52" height="12.17" rx="5.5" ry="4.87" fill="#000" opacity="1" filter="url(#b1)" transform="rotate(1 1736.06 670.71)"/><rect x="1588.25" y="683.25" width="45.7" height="3.61" rx="5.03" ry="1.44" fill="#000" opacity="0.1" filter="url(#b1)"/><rect x="1653.43" y="683.25" width="45.7" height="3.61" rx="5.03" ry="1.44" fill="#000" opacity="0.18" filter="url(#b1)"/><rect x="1714.89" y="683.25" width="43.83" height="3.61" rx="4.82" ry="1.44" fill="#000" opacity="0.18" filter="url(#b1)"/></svg>
<svg x="1123.17" y="1100.06" width="196.66" height="74.49" viewBox="1123.17 1100.06 196.66 74.49" overflow="hidden"><rect x="1123.17" y="1100.06" width="196.66" height="74.49" fill="#f0f0f0"/><rect x="1138.07" y="1121.66" width="46.93" height="29.8" rx="5.16" ry="6" fill="#000" opacity="0.12" filter="url(#b3)"/><rect x="1200.27" y="1121.66" width="45.81" height="29.8" rx="5.04" ry="6" fill="#000" opacity="0.12" filter="url(#b3)"/><rect x="1263.59" y="1123.52" width="46.93" height="26.07" rx="5.16" ry="6" fill="#000" opacity="0.08" filter="url(#b3)"/><rect x="1136.77" y="1127.93" width="49.53" height="19.5" rx="5.12" ry="5.8" fill="#000" opacity="0.22" filter="url(#b3)"/><rect x="1138.27" y="1130.43" width="46.53" height="14.5" rx="5.12" ry="5.8" fill="#000" opacity="0.95" filter="url(#b2)"/><rect x="1198.97" y="1127.93" width="48.41" height="20.24" rx="5" ry="6.1" fill="#000" opacity="0.22" filter="url(#b3)"/><rect x="1200.47" y="1130.43" width="45.41" height="15.24" rx="5" ry="6.1" fill="#000" opacity="0.95" filter="url(#b2)"/><rect x="1263.79" y="1132.29" width="46.53" height="11.89" rx="5.12" ry="4.76" fill="#000" opacity="0.6" filter="url(#b2)"/></svg>
<svg x="1348.14" y="1099.31" width="196.66" height="75.24" viewBox="1348.14 1099.31 196.66 75.24" overflow="hidden"><rect x="1348.14" y="1099.31" width="196.66" height="75.24" fill="#f2f2f2"/><rect x="1357.82" y="1123.52" width="47.67" height="27.93" rx="5.24" ry="6" fill="#000" opacity="0.1" filter="url(#b3)"/><rect x="1420.02" y="1125.38" width="51.77" height="24.21" rx="5.5" ry="6" fill="#000" opacity="0.07" filter="url(#b3)"/><rect x="1356.52" y="1129.04" width="50.27" height="18.38" rx="5.2" ry="5.35" fill="#000" opacity="0.22" filter="url(#b3)"/><rect x="1358.02" y="1131.54" width="47.27" height="13.38" rx="5.2" ry="5.35" fill="#000" opacity="0.96" filter="url(#b2)"/><rect x="1420.22" y="1133.03" width="51.37" height="11.15" rx="5.5" ry="4.46" fill="#000" opacity="0.65" filter="url(#b2)"/><rect x="1488.39" y="1133.03" width="47.27" height="11.15" rx="5.2" ry="4.46" fill="#000" opacity="0.48" filter="url(#b2)"/></svg>
<svg x="1573.11" y="1099.31" width="196.29" height="75.24" viewBox="1573.11 1099.31 196.29 75.24" overflow="hidden"><rect x="1573.11" y="1099.31" width="196.29" height="75.24" fill="#f3f3f3"/><rect x="1580" y="1127.18" width="52.14" height="17.64" rx="5.41" ry="5.05" fill="#000" opacity="0.22" filter="url(#b3)" transform="rotate(-2 1606.07 1136)"/><rect x="1581.5" y="1129.68" width="49.14" height="12.64" rx="5.41" ry="5.05" fill="#000" opacity="0.97" filter="url(#b2)" transform="rotate(-2 1606.07 1136)"/><rect x="1644.82" y="1131.54" width="46.53" height="9.66" rx="5.12" ry="3.86" fill="#000" opacity="0.6" filter="url(#b2)" transform="rotate(2 1668.08 1136.37)"/><rect x="1644.82" y="1130.43" width="21.95" height="10.03" rx="2.41" ry="4.01" fill="#000" opacity="0.45" filter="url(#b2)"/><rect x="1710.74" y="1129.68" width="44.67" height="7.79" rx="4.91" ry="3.12" fill="#000" opacity="0.14" filter="url(#b2)" transform="rotate(-8 1733.08 1133.58)"/></svg>
<svg x="1123.17" y="1184.23" width="196.66" height="75.24" viewBox="1123.17 1184.23 196.66 75.24" overflow="hidden"><rect x="1123.17" y="1184.23" width="196.66" height="75.24" fill="#f8f8f8"/><rect x="1134.54" y="1215.45" width="49.9" height="12.79" rx="5.16" ry="3.12" fill="#000" opacity="0.22" filter="url(#b3)" transform="rotate(1 1159.49 1221.85)"/><rect x="1136.04" y="1217.95" width="46.9" height="7.79" rx="5.16" ry="3.12" fill="#000" opacity="0.88" filter="url(#b2)" transform="rotate(1 1159.49 1221.85)"/><rect x="1197.11" y="1216.2" width="48.79" height="12.05" rx="5.04" ry="2.82" fill="#000" opacity="0.22" filter="url(#b3)" transform="rotate(1 1221.5 1222.22)"/><rect x="1198.61" y="1218.7" width="45.79" height="7.05" rx="5.04" ry="2.82" fill="#000" opacity="0.85" filter="url(#b2)" transform="rotate(1 1221.5 1222.22)"/><rect x="1259.32" y="1218.7" width="46.16" height="5.93" rx="5.08" ry="2.37" fill="#000" opacity="0.4" filter="url(#b2)" transform="rotate(-3 1282.4 1221.66)"/></svg>
<svg x="1349.26" y="1184.23" width="195.91" height="73.37" viewBox="1349.26 1184.23 195.91 73.37" overflow="hidden"><rect x="1349.26" y="1184.23" width="195.91" height="73.37" fill="#f4f4f4"/><rect x="1354.71" y="1211.77" width="53.54" height="14.94" rx="5.5" ry="3.98" fill="#000" opacity="0.22" filter="url(#b3)" transform="rotate(5 1381.48 1219.24)"/><rect x="1356.21" y="1214.27" width="50.54" height="9.94" rx="5.5" ry="3.98" fill="#000" opacity="0.97" filter="url(#b1)" transform="rotate(5 1381.48 1219.24)"/><rect x="1420.63" y="1214.75" width="48.32" height="13.45" rx="4.99" ry="3.38" fill="#000" opacity="0.22" filter="url(#b3)" transform="rotate(1 1444.79 1221.48)"/><rect x="1422.13" y="1217.25" width="45.32" height="8.45" rx="4.99" ry="3.38" fill="#000" opacity="0.9" filter="url(#b1)" transform="rotate(1 1444.79 1221.48)"/><rect x="1482.84" y="1219.12" width="49.79" height="6.59" rx="5.48" ry="2.63" fill="#000" opacity="0.36" filter="url(#b1)" transform="rotate(-1 1507.74 1222.41)"/></svg>
<svg x="1573.11" y="1184.23" width="196.29" height="74.12" viewBox="1573.11 1184.23 196.29 74.12" overflow="hidden"><rect x="1573.11" y="1184.23" width="196.29" height="74.12" fill="#f2f2f2"/><rect x="1584.11" y="1216.09" width="50.25" height="7.05" rx="5.5" ry="2.82" fill="#000" opacity="0.75" filter="url(#b2)" transform="rotate(2 1609.23 1219.62)"/><rect x="1644.81" y="1216.2" width="55.49" height="12.42" rx="5.5" ry="2.97" fill="#000" opacity="0.22" filter="url(#b3)" transform="rotate(2 1672.55 1222.41)"/><rect x="1646.31" y="1218.7" width="52.49" height="7.42" rx="5.5" ry="2.97" fill="#000" opacity="0.85" filter="url(#b2)" transform="rotate(2 1672.55 1222.41)"/><rect x="1710.36" y="1216.2" width="52.14" height="13.54" rx="5.41" ry="3.42" fill="#000" opacity="0.22" filter="url(#b3)" transform="rotate(-4 1736.43 1222.97)"/><rect x="1711.86" y="1218.7" width="49.14" height="8.54" rx="5.41" ry="3.42" fill="#000" opacity="0.8" filter="url(#b2)" transform="rotate(-4 1736.43 1222.97)"/></svg>
<svg x="1123.92" y="1267.66" width="195.91" height="74.49" viewBox="1123.92 1267.66 195.91 74.49" overflow="hidden"><rect x="1123.92" y="1267.66" width="195.91" height="74.49" fill="#f5f5f5"/><rect x="1141.24" y="1291.81" width="50.27" height="27.32" rx="5.2" ry="8.93" fill="#000" opacity="0.22" filter="url(#b3)" transform="rotate(2 1166.38 1305.47)"/><rect x="1142.74" y="1294.31" width="47.27" height="22.32" rx="5.2" ry="8.93" fill="#000" opacity="1" filter="url(#b2)" transform="rotate(2 1166.38 1305.47)"/><rect x="1200.84" y="1295.53" width="49.53" height="20.99" rx="5.12" ry="6.4" fill="#000" opacity="0.22" filter="url(#b3)" transform="rotate(-1 1225.6 1306.03)"/><rect x="1202.34" y="1298.03" width="46.53" height="15.99" rx="5.12" ry="6.4" fill="#000" opacity="0.97" filter="url(#b2)" transform="rotate(-1 1225.6 1306.03)"/><rect x="1264.9" y="1297.4" width="43.2" height="17.64" rx="4.42" ry="5.05" fill="#000" opacity="0.22" filter="url(#b3)" transform="rotate(-2 1286.5 1306.21)"/><rect x="1266.4" y="1299.9" width="40.2" height="12.64" rx="4.42" ry="5.05" fill="#000" opacity="0.8" filter="url(#b2)" transform="rotate(-2 1286.5 1306.21)"/></svg>
<svg x="1348.88" y="1268.04" width="195.91" height="74.12" viewBox="1348.88 1268.04 195.91 74.12" overflow="hidden"><rect x="1348.88" y="1268.04" width="195.91" height="74.12" fill="#e9e9e9"/><rect x="1363.97" y="1293.67" width="49.53" height="21.73" rx="5.12" ry="6.69" fill="#000" opacity="0.22" filter="url(#b3)"/><rect x="1365.47" y="1296.17" width="46.53" height="16.73" rx="5.12" ry="6.69" fill="#000" opacity="0.97" filter="url(#b2)"/><rect x="1425.06" y="1294.42" width="46.92" height="20.24" rx="4.83" ry="6.1" fill="#000" opacity="0.22" filter="url(#b3)"/><rect x="1426.56" y="1296.92" width="43.92" height="15.24" rx="4.83" ry="6.1" fill="#000" opacity="0.97" filter="url(#b2)"/><rect x="1483.91" y="1296.65" width="51.39" height="19.87" rx="5.32" ry="5.95" fill="#000" opacity="0.22" filter="url(#b3)" transform="rotate(4 1509.6 1306.59)"/><rect x="1485.41" y="1299.15" width="48.39" height="14.87" rx="5.32" ry="5.95" fill="#000" opacity="0.92" filter="url(#b2)" transform="rotate(4 1509.6 1306.59)"/></svg>
<svg x="1571.99" y="1267.29" width="196.66" height="74.86" viewBox="1571.99 1267.29 196.66 74.86" overflow="hidden"><rect x="1571.99" y="1267.29" width="196.66" height="74.86" fill="#e4e4e4"/><rect x="1582.05" y="1309.75" width="46.93" height="20.49" rx="5.16" ry="6" fill="#000" opacity="0.45" filter="url(#b3)"/><rect x="1645.36" y="1309.75" width="46.19" height="24.21" rx="5.08" ry="6" fill="#000" opacity="0.5" filter="url(#b3)"/><rect x="1710.54" y="1289.27" width="45.07" height="44.7" rx="4.96" ry="6" fill="#000" opacity="0.22" filter="url(#b3)"/><rect x="1580" y="1289.2" width="51.02" height="26.58" rx="5.28" ry="8.63" fill="#000" opacity="0.22" filter="url(#b3)"/><rect x="1581.5" y="1291.7" width="48.02" height="21.58" rx="5.28" ry="8.63" fill="#000" opacity="0.97" filter="url(#b2)"/><rect x="1643.32" y="1289.2" width="50.27" height="26.58" rx="5.2" ry="8.63" fill="#000" opacity="0.22" filter="url(#b3)"/><rect x="1644.82" y="1291.7" width="47.27" height="21.58" rx="5.2" ry="8.63" fill="#000" opacity="0.93" filter="url(#b2)"/></svg>
<svg x="1123.17" y="1351.38" width="196.66" height="73.75" viewBox="1123.17 1351.38 196.66 73.75" overflow="hidden"><rect x="1123.17" y="1351.38" width="196.66" height="73.75" fill="#ebebeb"/><rect x="1134.95" y="1378.18" width="62.1" height="19.78" rx="5.5" ry="5.91" fill="#000" opacity="0.22" filter="url(#b3)" transform="rotate(-4 1166.01 1388.07)"/><rect x="1136.45" y="1380.68" width="59.1" height="14.78" rx="5.5" ry="5.91" fill="#000" opacity="1" filter="url(#b1)" transform="rotate(-4 1166.01 1388.07)"/><rect x="1205.72" y="1377.44" width="47.21" height="17.92" rx="4.86" ry="5.17" fill="#000" opacity="0.22" filter="url(#b3)"/><rect x="1207.22" y="1379.94" width="44.21" height="12.92" rx="4.86" ry="5.17" fill="#000" opacity="1" filter="url(#b1)"/><rect x="1261.59" y="1376.69" width="50.93" height="19.41" rx="5.27" ry="5.76" fill="#000" opacity="0.22" filter="url(#b3)" transform="rotate(4 1287.06 1386.4)"/><rect x="1263.09" y="1379.19" width="47.93" height="14.41" rx="5.27" ry="5.76" fill="#000" opacity="1" filter="url(#b1)" transform="rotate(4 1287.06 1386.4)"/></svg>
<svg x="1348.88" y="1351.38" width="195.91" height="73.75" viewBox="1348.88 1351.38 195.91 73.75" overflow="hidden"><rect x="1348.88" y="1351.38" width="195.91" height="73.75" fill="#ebebeb"/><rect x="1357.31" y="1378.18" width="54.65" height="19.41" rx="5.5" ry="5.76" fill="#000" opacity="0.22" filter="url(#b3)"/><rect x="1358.81" y="1380.68" width="51.65" height="14.41" rx="5.5" ry="5.76" fill="#000" opacity="1" filter="url(#b1)"/><rect x="1419.89" y="1379.3" width="56.52" height="18.29" rx="5.5" ry="5.32" fill="#000" opacity="0.22" filter="url(#b3)"/><rect x="1421.39" y="1381.8" width="53.52" height="13.29" rx="5.5" ry="5.32" fill="#000" opacity="1" filter="url(#b1)"/><rect x="1486.19" y="1375.57" width="51.67" height="20.9" rx="5.35" ry="6.36" fill="#000" opacity="0.22" filter="url(#b3)"/><rect x="1487.69" y="1378.07" width="48.67" height="15.9" rx="5.35" ry="6.36" fill="#000" opacity="1" filter="url(#b1)"/></svg>
<svg x="1573.85" y="1351.38" width="195.54" height="73.75" viewBox="1573.85 1351.38 195.54 73.75" overflow="hidden"><rect x="1573.85" y="1351.38" width="195.54" height="73.75" fill="#ebebeb"/><rect x="1580.79" y="1380.42" width="55.77" height="17.92" rx="5.5" ry="5.17" fill="#000" opacity="0.22" filter="url(#b3)"/><rect x="1582.29" y="1382.92" width="52.77" height="12.92" rx="5.5" ry="5.17" fill="#000" opacity="1" filter="url(#b1)"/><rect x="1645.23" y="1381.91" width="52.05" height="18.66" rx="5.4" ry="5.47" fill="#000" opacity="0.22" filter="url(#b3)" transform="rotate(-3 1671.25 1391.24)"/><rect x="1646.73" y="1384.41" width="49.05" height="13.66" rx="5.4" ry="5.47" fill="#000" opacity="1" filter="url(#b1)" transform="rotate(-3 1671.25 1391.24)"/><rect x="1705.94" y="1376.69" width="54.65" height="18.66" rx="5.5" ry="5.47" fill="#000" opacity="0.22" filter="url(#b3)" transform="rotate(-3 1733.26 1386.02)"/><rect x="1707.44" y="1379.19" width="51.65" height="13.66" rx="5.5" ry="5.47" fill="#000" opacity="1" filter="url(#b1)" transform="rotate(-3 1733.26 1386.02)"/></svg>
<rect x="1121.2" y="30.2" width="644.1" height="5.6" fill="#000"/>
<rect x="1121.2" y="74.5" width="198.8" height="5.6" fill="#000"/>
<rect x="1346.9" y="74.5" width="196.6" height="5.6" fill="#000"/>
<rect x="1573" y="74" width="195" height="5.6" fill="#000"/>
<text class="s m w2" x="1447.8" y="21.4">UA (μM)</text>
<text class="s m" x="1221.5" y="63.3">LNCaP</text>
<text class="s m" x="1447" y="63.3">PC3</text>
<text class="s m" x="1671.3" y="61.4">DU145</text>
<text class="s m" x="1163.6" y="108">0</text>
<text class="s m" x="1224.8" y="108">5</text>
<text class="s m" x="1286.5" y="108">10</text>
<text class="s m" x="1388.4" y="108">0</text>
<text class="s m" x="1448.8" y="108">5</text>
<text class="s m" x="1510.8" y="108">10</text>
<text class="s m" x="1609.4" y="106">0</text>
<text class="s m" x="1671.3" y="106">5</text>
<text class="s m" x="1732.3" y="106">10</text>
<text class="s e" x="1110" y="168.6">C-MYC</text>
<text class="s e" x="1110" y="255.7">Cyclin A</text>
<text class="s e" x="1110" y="340.8">Cyclin D1</text>
<text class="s e" x="1110" y="424">Cyclin E</text>
<text class="s e w1" x="1110" y="510">cleaved-Caspase 3</text>
<text class="s e w1" x="1110" y="594">cleaved-Caspase 7</text>
<text class="s e" x="1110" y="678">GAPDH</text>
<rect x="1122.6" y="1009.1" width="644.2" height="5.9" fill="#000"/>
<rect x="1122.6" y="1054.5" width="197.9" height="5.5" fill="#000"/>
<rect x="1347.5" y="1054.5" width="196.5" height="5.5" fill="#000"/>
<rect x="1573.5" y="1054.5" width="194.5" height="5.5" fill="#000"/>
<text class="s m w3" x="1444.8" y="1001">Digoxin (nM)</text>
<text class="s m" x="1223" y="1044">LNCaP</text>
<text class="s m" x="1449" y="1044">PC3</text>
<text class="s m" x="1672.8" y="1041.2">DU145</text>
<text class="s m" x="1160.9" y="1088">0</text>
<text class="s m" x="1222.3" y="1088">50</text>
<text class="s m" x="1285.2" y="1088">100</text>
<text class="s m" x="1383.4" y="1088">0</text>
<text class="s m" x="1445.8" y="1088">50</text>
<text class="s m" x="1507.2" y="1088">100</text>
<text class="s m" x="1605.4" y="1086.6">0</text>
<text class="s m" x="1667.8" y="1086.6">50</text>
<text class="s m" x="1729.2" y="1086.6">100</text>
<text class="s e" x="1111.5" y="1147">C-MYC</text>
<text class="s e" x="1111.5" y="1231">Cyclin A</text>
<text class="s e" x="1111.5" y="1315">Cyclin E</text>
<text class="s e" x="1111.5" y="1398">GAPDH</text>
</svg>
</body>
</html>
